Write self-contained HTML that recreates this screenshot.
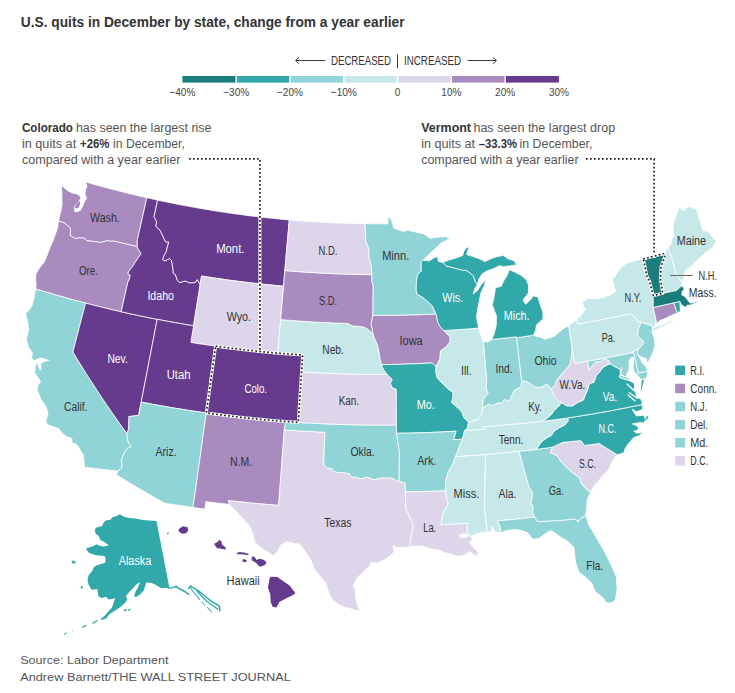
<!DOCTYPE html>
<html><head><meta charset="utf-8"><title>U.S. quits in December by state</title>
<style>html,body{margin:0;padding:0;background:#fff;width:735px;height:693px;overflow:hidden}svg{display:block}text{font-family:"Liberation Sans",sans-serif}</style></head>
<body><svg width="735" height="693" viewBox="0 0 735 693" font-family="Liberation Sans, sans-serif">
<rect width="735" height="693" fill="#fff"/>
<g stroke="#fff" stroke-width="0.8" stroke-linejoin="round"><path d="M58.4,221.1L59.1,218.4L59.7,215.7L60.3,213.3L61.0,210.9L61.5,207.6L62.1,204.3L62.0,201.2L61.9,198.1L61.9,195.5L62.0,192.9L61.4,188.4L61.5,185.3L63.0,186.7L64.4,188.0L66.3,189.5L68.2,191.0L70.3,192.0L72.3,193.0L74.5,193.4L76.8,193.8L78.5,195.0L80.2,196.2L80.9,197.8L79.7,200.0L78.4,202.2L76.4,204.2L74.3,206.2L74.4,208.8L74.5,211.5L76.3,211.6L78.1,211.6L80.9,209.9L82.6,206.0L83.6,203.7L84.5,201.4L86.5,198.5L85.0,193.8L85.6,189.6L87.0,186.6L85.5,181.9L88.2,182.6L90.8,183.4L93.5,184.2L96.1,184.9L98.8,185.6L101.4,186.4L104.1,187.1L106.7,187.8L109.4,188.5L112.1,189.2L114.7,189.9L117.4,190.6L120.1,191.3L122.7,192.0L125.4,192.6L128.1,193.3L130.8,194.0L133.5,194.6L136.1,195.2L138.8,195.9L141.5,196.5L144.2,197.1L146.9,197.7L146.0,201.5L145.2,205.3L144.3,209.1L143.4,212.9L142.6,216.7L141.7,220.5L140.9,224.3L140.0,228.1L139.1,231.9L138.3,235.7L137.4,239.5L137.3,243.2L137.2,246.6L134.6,246.0L132.0,245.4L129.4,244.8L126.9,244.2L124.3,243.6L121.7,243.0L119.1,242.4L116.5,241.7L113.9,241.1L112.0,241.2L110.0,241.3L108.3,241.0L106.6,240.6L104.0,241.6L101.3,242.5L98.4,242.1L95.5,241.6L93.2,241.4L90.8,241.2L89.0,241.0L87.2,240.9L85.8,239.5L84.3,238.2L82.0,238.0L79.6,237.9L77.4,238.2L75.1,238.5L73.4,237.5L71.6,236.4L69.9,235.3L70.6,231.1L69.8,227.5L67.4,225.4L66.0,224.2L64.5,223.1L61.8,221.9L60.1,221.5Z" fill="#a98bbf"/><path d="M58.4,221.1L60.1,221.5L61.8,221.9L64.5,223.1L66.0,224.2L67.4,225.4L69.8,227.5L70.6,231.1L69.9,235.3L71.6,236.4L73.4,237.5L75.1,238.5L77.4,238.2L79.6,237.9L82.0,238.0L84.3,238.2L85.8,239.5L87.2,240.9L89.0,241.0L90.8,241.2L93.2,241.4L95.5,241.6L98.4,242.1L101.3,242.5L104.0,241.6L106.6,240.6L108.3,241.0L110.0,241.3L112.0,241.2L113.9,241.1L116.5,241.7L119.1,242.4L121.7,243.0L124.3,243.6L126.9,244.2L129.4,244.8L132.0,245.4L134.6,246.0L137.2,246.6L138.3,249.3L140.3,252.4L140.9,254.3L138.9,256.7L137.0,259.6L135.6,261.6L134.3,263.6L133.2,265.6L131.3,268.1L129.4,270.6L127.7,273.6L130.2,275.0L129.5,278.7L128.5,281.0L127.8,282.2L127.0,285.9L126.2,289.6L125.3,293.3L124.5,297.0L123.7,300.7L122.8,304.4L122.0,308.1L121.2,311.8L118.2,311.1L115.2,310.4L112.2,309.7L109.3,309.0L106.3,308.3L103.3,307.6L100.4,306.8L97.4,306.1L94.5,305.4L91.5,304.6L88.5,303.9L85.6,303.1L82.6,302.3L79.7,301.6L76.7,300.8L73.8,300.0L70.8,299.2L67.9,298.4L64.9,297.5L62.0,296.7L59.1,295.9L56.1,295.1L53.2,294.2L50.3,293.3L47.3,292.5L44.4,291.6L41.5,290.7L38.6,289.9L35.6,289.0L36.2,285.6L35.9,282.9L35.7,280.2L35.7,277.2L35.8,274.2L37.8,270.8L39.9,267.4L41.9,264.9L43.9,262.5L45.5,259.0L47.0,255.5L48.5,251.6L49.9,247.7L51.4,244.6L52.8,241.5L54.2,237.6L55.6,233.6L56.7,230.5L57.7,227.3L58.1,224.2Z" fill="#a98bbf"/><path d="M35.6,289.0L38.6,289.9L41.5,290.7L44.4,291.6L47.3,292.5L50.3,293.3L53.2,294.2L56.1,295.1L59.1,295.9L62.0,296.7L64.9,297.5L67.9,298.4L70.8,299.2L73.8,300.0L76.7,300.8L79.7,301.6L82.6,302.3L85.6,303.1L84.5,307.2L83.5,311.3L82.4,315.3L81.3,319.4L80.3,323.5L79.2,327.6L78.2,331.6L77.1,335.7L76.1,339.8L75.0,343.9L73.9,348.0L72.9,352.1L75.2,355.8L77.4,359.6L79.8,363.3L82.1,367.1L84.4,370.8L86.8,374.5L89.2,378.3L91.6,382.0L94.0,385.7L96.4,389.4L98.9,393.2L101.3,396.9L103.8,400.6L106.3,404.3L108.8,408.0L111.4,411.7L113.9,415.3L116.5,419.0L119.1,422.7L121.7,426.4L124.3,430.0L127.0,433.7L127.1,437.1L127.7,439.9L128.4,442.6L129.8,444.6L131.2,446.5L128.9,447.8L126.7,449.1L124.8,452.1L123.1,456.1L121.4,460.1L121.8,463.6L122.1,467.1L120.2,469.1L118.2,471.1L114.8,470.7L111.5,470.4L108.1,470.0L104.8,469.6L101.4,469.2L98.1,468.8L94.7,468.4L91.4,468.0L88.0,467.6L84.7,467.2L84.4,464.3L84.1,461.5L83.7,458.4L83.4,455.3L81.3,451.8L79.3,448.3L77.7,446.2L76.1,444.1L74.1,443.6L72.0,443.1L71.9,440.7L71.8,438.2L69.8,437.8L67.8,437.4L65.4,435.7L63.0,433.9L60.8,431.2L58.7,428.5L55.9,427.6L53.2,426.7L50.4,425.7L47.6,424.8L45.8,421.7L46.9,417.6L48.1,413.6L47.1,410.2L46.1,406.9L43.6,403.2L41.1,399.5L39.0,394.5L37.0,389.5L37.6,387.1L38.3,384.7L40.5,381.8L38.7,378.3L36.7,375.7L34.7,373.1L34.9,370.1L35.1,367.1L35.7,364.9L36.4,362.7L33.9,360.4L31.6,358.1L32.0,355.6L32.4,353.1L30.3,349.9L28.2,346.6L27.3,342.8L26.4,339.0L27.2,335.7L28.0,332.4L28.8,329.1L28.0,325.0L27.3,320.8L26.5,317.1L25.6,313.4L27.5,311.6L29.3,309.9L30.7,307.7L32.0,305.5L33.1,301.4L34.1,297.3L34.9,293.1Z" fill="#91d4d7"/><path d="M85.6,303.1L88.5,303.9L91.5,304.6L94.5,305.4L97.4,306.1L100.4,306.8L103.3,307.6L106.3,308.3L109.3,309.0L112.2,309.7L115.2,310.4L118.2,311.1L121.2,311.8L124.2,312.4L127.2,313.1L130.2,313.8L133.2,314.4L136.2,315.0L139.2,315.7L142.2,316.3L145.2,316.9L148.2,317.5L151.2,318.1L154.2,318.7L157.2,319.3L156.4,323.5L155.6,327.6L154.8,331.7L154.0,335.9L153.2,340.0L152.4,344.1L151.6,348.3L150.8,352.4L150.0,356.6L149.2,360.7L148.4,364.8L147.6,369.0L146.8,373.1L146.0,377.3L145.2,381.4L144.4,385.5L143.6,389.7L142.8,393.8L142.0,398.0L141.2,402.1L140.6,405.4L139.9,408.7L139.3,412.1L138.7,415.4L136.1,415.7L133.6,416.1L131.2,416.3L128.9,416.5L128.9,419.3L128.9,422.0L128.8,425.5L128.7,428.9L127.8,431.3L127.0,433.7L124.3,430.0L121.7,426.4L119.1,422.7L116.5,419.0L113.9,415.3L111.4,411.7L108.8,408.0L106.3,404.3L103.8,400.6L101.3,396.9L98.9,393.2L96.4,389.4L94.0,385.7L91.6,382.0L89.2,378.3L86.8,374.5L84.4,370.8L82.1,367.1L79.8,363.3L77.4,359.6L75.2,355.8L72.9,352.1L73.9,348.0L75.0,343.9L76.1,339.8L77.1,335.7L78.2,331.6L79.2,327.6L80.3,323.5L81.3,319.4L82.4,315.3L83.5,311.3L84.5,307.2Z" fill="#663b8e"/><path d="M146.9,197.7L149.6,198.3L152.2,198.9L154.9,199.5L157.6,200.1L156.9,203.4L156.2,206.7L155.5,210.0L154.8,213.3L154.0,216.6L155.4,219.3L156.7,221.9L155.8,226.0L157.8,228.1L159.9,230.2L161.1,232.6L162.4,235.0L164.0,238.7L165.7,241.8L167.3,241.9L168.8,242.0L167.8,245.6L166.9,249.1L165.9,252.7L164.3,254.9L163.5,257.2L162.7,259.5L164.8,261.0L167.2,259.7L169.5,258.5L171.5,260.6L172.1,263.8L172.6,267.0L173.2,270.3L173.3,273.3L175.4,274.6L176.4,277.5L177.4,280.4L179.4,282.5L182.6,281.7L185.7,281.0L187.4,281.9L189.0,282.8L192.1,282.7L195.1,282.6L197.2,279.6L198.7,282.1L200.2,284.6L199.5,288.7L198.9,292.9L198.2,297.0L197.5,301.1L196.9,305.2L196.2,309.3L195.5,313.4L194.9,317.5L194.2,321.6L193.6,325.8L190.5,325.3L187.5,324.8L184.5,324.3L181.4,323.7L178.4,323.2L175.4,322.7L172.4,322.2L169.3,321.6L166.3,321.0L163.3,320.5L160.3,319.9L157.2,319.3L154.2,318.7L151.2,318.1L148.2,317.5L145.2,316.9L142.2,316.3L139.2,315.7L136.2,315.0L133.2,314.4L130.2,313.8L127.2,313.1L124.2,312.4L121.2,311.8L122.0,308.1L122.8,304.4L123.7,300.7L124.5,297.0L125.3,293.3L126.2,289.6L127.0,285.9L127.8,282.2L128.5,281.0L129.5,278.7L130.2,275.0L127.7,273.6L129.4,270.6L131.3,268.1L133.2,265.6L134.3,263.6L135.6,261.6L137.0,259.6L138.9,256.7L140.9,254.3L140.3,252.4L138.3,249.3L137.2,246.6L137.3,243.2L137.4,239.5L138.3,235.7L139.1,231.9L140.0,228.1L140.9,224.3L141.7,220.5L142.6,216.7L143.4,212.9L144.3,209.1L145.2,205.3L146.0,201.5Z" fill="#663b8e"/><path d="M157.6,200.1L160.3,200.7L163.0,201.3L165.8,201.8L168.5,202.4L171.2,202.9L173.9,203.5L176.6,204.0L179.4,204.6L182.1,205.1L184.8,205.6L187.5,206.1L190.3,206.6L193.0,207.1L195.7,207.6L198.5,208.1L201.2,208.6L203.9,209.0L206.7,209.5L209.4,209.9L212.1,210.4L214.9,210.8L217.6,211.2L220.4,211.7L223.1,212.1L225.9,212.5L228.6,212.9L231.4,213.3L234.1,213.7L236.9,214.1L239.6,214.4L242.4,214.8L245.1,215.2L247.9,215.5L250.6,215.9L253.4,216.2L256.1,216.5L258.9,216.8L261.6,217.2L264.4,217.5L267.2,217.8L269.9,218.1L272.7,218.3L275.4,218.6L278.2,218.9L281.0,219.2L283.7,219.4L286.5,219.7L289.3,219.9L288.9,223.8L288.6,227.7L288.3,231.5L287.9,235.4L287.6,239.3L287.2,243.2L286.9,247.1L286.6,251.0L286.2,254.9L285.9,258.8L285.6,262.7L285.2,266.6L284.9,270.5L284.5,274.4L284.2,278.3L283.9,282.3L283.5,286.2L280.6,285.9L277.7,285.7L274.7,285.4L271.8,285.1L268.8,284.8L265.9,284.5L263.0,284.2L260.0,283.9L257.1,283.6L254.2,283.3L251.2,282.9L248.3,282.6L245.4,282.2L242.5,281.9L239.5,281.5L236.6,281.1L233.7,280.7L230.8,280.4L227.8,280.0L224.9,279.6L222.0,279.1L219.1,278.7L216.1,278.3L213.2,277.9L210.3,277.4L207.4,277.0L204.5,276.5L201.6,276.0L201.1,278.9L200.6,281.8L200.2,284.6L198.7,282.1L197.2,279.6L195.1,282.6L192.1,282.7L189.0,282.8L187.4,281.9L185.7,281.0L182.6,281.7L179.4,282.5L177.4,280.4L176.4,277.5L175.4,274.6L173.3,273.3L173.2,270.3L172.6,267.0L172.1,263.8L171.5,260.6L169.5,258.5L167.2,259.7L164.8,261.0L162.7,259.5L163.5,257.2L164.3,254.9L165.9,252.7L166.9,249.1L167.8,245.6L168.8,242.0L167.3,241.9L165.7,241.8L164.0,238.7L162.4,235.0L161.1,232.6L159.9,230.2L157.8,228.1L155.8,226.0L156.7,221.9L155.4,219.3L154.0,216.6L154.8,213.3L155.5,210.0L156.2,206.7L156.9,203.4Z" fill="#663b8e"/><path d="M200.2,284.6L200.6,281.8L201.1,278.9L201.6,276.0L204.5,276.5L207.4,277.0L210.3,277.4L213.2,277.9L216.1,278.3L219.1,278.7L222.0,279.1L224.9,279.6L227.8,280.0L230.8,280.4L233.7,280.7L236.6,281.1L239.5,281.5L242.5,281.9L245.4,282.2L248.3,282.6L251.2,282.9L254.2,283.3L257.1,283.6L260.0,283.9L263.0,284.2L265.9,284.5L268.8,284.8L271.8,285.1L274.7,285.4L277.7,285.7L280.6,285.9L283.5,286.2L283.2,290.3L282.8,294.5L282.5,298.7L282.1,302.9L281.7,307.0L281.4,311.2L281.0,315.4L280.6,319.6L280.3,323.8L279.9,328.0L279.6,332.2L279.2,336.4L278.8,340.5L278.5,344.7L278.1,348.9L277.8,353.1L274.6,352.9L271.5,352.6L268.4,352.3L265.3,352.0L262.2,351.7L259.1,351.4L256.0,351.0L252.9,350.7L249.7,350.4L246.6,350.0L243.5,349.7L240.4,349.3L237.3,348.9L234.2,348.6L231.1,348.2L228.0,347.8L224.9,347.4L221.8,347.0L218.7,346.5L215.6,346.1L212.5,345.7L209.4,345.2L206.3,344.8L203.2,344.3L200.1,343.9L197.0,343.4L194.0,342.9L190.9,342.4L191.5,338.2L192.2,334.1L192.9,329.9L193.6,325.8L194.2,321.6L194.9,317.5L195.5,313.4L196.2,309.3L196.9,305.2L197.5,301.1L198.2,297.0L198.9,292.9L199.5,288.7Z" fill="#ddd5ea"/><path d="M157.2,319.3L160.3,319.9L163.3,320.5L166.3,321.0L169.3,321.6L172.4,322.2L175.4,322.7L178.4,323.2L181.4,323.7L184.5,324.3L187.5,324.8L190.5,325.3L193.6,325.8L192.9,329.9L192.2,334.1L191.5,338.2L190.9,342.4L194.0,342.9L197.0,343.4L200.1,343.9L203.2,344.3L206.3,344.8L209.4,345.2L212.5,345.7L215.6,346.1L215.0,350.3L214.4,354.5L213.9,358.6L213.3,362.8L212.7,367.0L212.1,371.2L211.5,375.3L210.9,379.5L210.4,383.7L209.8,387.9L209.2,392.1L208.6,396.2L208.0,400.4L207.4,404.6L206.9,408.8L206.3,412.9L203.0,412.5L199.7,412.0L196.5,411.5L193.2,411.1L190.0,410.6L186.7,410.1L183.4,409.5L180.2,409.0L176.9,408.5L173.7,408.0L170.4,407.4L167.2,406.9L163.9,406.3L160.7,405.7L157.4,405.1L154.2,404.6L150.9,404.0L147.7,403.3L144.5,402.7L141.2,402.1L142.0,398.0L142.8,393.8L143.6,389.7L144.4,385.5L145.2,381.4L146.0,377.3L146.8,373.1L147.6,369.0L148.4,364.8L149.2,360.7L150.0,356.6L150.8,352.4L151.6,348.3L152.4,344.1L153.2,340.0L154.0,335.9L154.8,331.7L155.6,327.6L156.4,323.5Z" fill="#663b8e"/><path d="M215.6,346.1L218.7,346.5L221.8,347.0L224.9,347.4L228.0,347.8L231.1,348.2L234.2,348.6L237.3,348.9L240.4,349.3L243.5,349.7L246.6,350.0L249.7,350.4L252.9,350.7L256.0,351.0L259.1,351.4L262.2,351.7L265.3,352.0L268.4,352.3L271.5,352.6L274.6,352.9L277.8,353.1L280.9,353.4L284.0,353.7L287.1,353.9L290.2,354.1L293.3,354.4L296.5,354.6L299.6,354.8L302.7,355.0L302.4,359.2L302.1,363.4L301.9,367.6L301.6,371.8L301.3,376.1L301.0,380.3L300.8,384.5L300.5,388.7L300.2,392.9L300.0,397.1L299.7,401.3L299.4,405.5L299.1,409.7L298.9,413.9L298.6,418.1L298.3,422.4L295.2,422.1L292.0,421.9L288.9,421.7L285.8,421.5L282.6,421.2L279.4,421.0L276.2,420.7L273.0,420.5L269.8,420.2L266.7,419.9L263.5,419.6L260.3,419.3L257.1,419.0L253.9,418.7L250.7,418.3L247.6,418.0L244.4,417.7L241.2,417.3L238.0,417.0L234.8,416.6L231.7,416.2L228.5,415.8L225.3,415.5L222.1,415.1L219.0,414.6L215.8,414.2L212.6,413.8L209.4,413.4L206.3,412.9L206.9,408.8L207.4,404.6L208.0,400.4L208.6,396.2L209.2,392.1L209.8,387.9L210.4,383.7L210.9,379.5L211.5,375.3L212.1,371.2L212.7,367.0L213.3,362.8L213.9,358.6L214.4,354.5L215.0,350.3Z" fill="#663b8e"/><path d="M141.2,402.1L144.5,402.7L147.7,403.3L150.9,404.0L154.2,404.6L157.4,405.1L160.7,405.7L163.9,406.3L167.2,406.9L170.4,407.4L173.7,408.0L176.9,408.5L180.2,409.0L183.4,409.5L186.7,410.1L190.0,410.6L193.2,411.1L196.5,411.5L199.7,412.0L203.0,412.5L206.3,412.9L205.7,417.1L205.1,421.2L204.6,425.3L204.0,429.4L203.4,433.5L202.8,437.7L202.3,441.8L201.7,445.9L201.1,450.0L200.5,454.1L200.0,458.2L199.4,462.3L198.8,466.5L198.2,470.6L197.7,474.7L197.1,478.8L196.5,482.9L195.9,487.0L195.4,491.1L194.8,495.2L194.2,499.3L193.6,503.4L193.1,507.5L189.9,507.0L186.8,506.6L183.6,506.1L180.4,505.7L177.3,505.2L174.1,504.7L171.0,504.2L167.8,503.7L164.7,503.2L161.4,501.4L158.1,499.5L154.8,497.6L151.6,495.8L148.3,493.9L145.0,492.0L141.8,490.1L138.6,488.2L135.4,486.3L132.1,484.3L128.9,482.4L125.7,480.5L122.5,478.5L119.4,476.6L116.2,474.6L118.2,471.1L120.2,469.1L122.1,467.1L121.8,463.6L121.4,460.1L123.1,456.1L124.8,452.1L126.7,449.1L128.9,447.8L131.2,446.5L129.8,444.6L128.4,442.6L127.7,439.9L127.1,437.1L127.0,433.7L127.8,431.3L128.7,428.9L128.8,425.5L128.9,422.0L128.9,419.3L128.9,416.5L131.2,416.3L133.6,416.1L136.1,415.7L138.7,415.4L139.3,412.1L139.9,408.7L140.6,405.4Z" fill="#91d4d7"/><path d="M206.3,412.9L209.4,413.4L212.6,413.8L215.8,414.2L219.0,414.6L222.1,415.1L225.3,415.5L228.5,415.8L231.7,416.2L234.8,416.6L238.0,417.0L241.2,417.3L244.4,417.7L247.6,418.0L250.7,418.3L253.9,418.7L257.1,419.0L260.3,419.3L263.5,419.6L266.7,419.9L269.8,420.2L273.0,420.5L276.2,420.7L279.4,421.0L282.6,421.2L285.8,421.5L285.1,425.7L284.3,429.8L284.0,434.0L283.7,438.2L283.4,442.4L283.1,446.6L282.8,450.9L282.4,455.1L282.1,459.3L281.8,463.5L281.5,467.7L281.2,471.9L280.8,476.0L280.5,480.2L280.2,484.4L279.9,488.6L279.6,492.8L279.3,497.0L278.9,501.2L278.6,505.4L275.3,505.1L271.9,504.9L268.6,504.6L265.3,504.3L261.9,504.0L258.6,503.7L255.3,503.4L251.9,503.1L248.6,502.8L245.3,502.4L241.9,502.1L238.6,501.7L235.3,501.4L232.0,501.0L228.6,500.7L229.5,504.5L226.1,504.1L222.7,503.7L219.4,503.3L216.0,502.9L212.6,502.5L209.3,502.0L205.9,501.6L205.4,505.3L204.9,509.1L202.0,508.7L199.0,508.3L196.0,507.9L193.1,507.5L193.6,503.4L194.2,499.3L194.8,495.2L195.4,491.1L195.9,487.0L196.5,482.9L197.1,478.8L197.7,474.7L198.2,470.6L198.8,466.5L199.4,462.3L200.0,458.2L200.5,454.1L201.1,450.0L201.7,445.9L202.3,441.8L202.8,437.7L203.4,433.5L204.0,429.4L204.6,425.3L205.1,421.2L205.7,417.1Z" fill="#a98bbf"/><path d="M284.3,429.8L287.5,430.1L290.6,430.3L293.7,430.5L296.8,430.7L300.0,430.9L303.1,431.1L306.2,431.3L309.4,431.5L312.5,431.6L315.6,431.8L318.7,432.0L321.9,432.1L325.0,432.3L324.8,436.3L324.6,440.4L324.5,444.5L324.3,448.6L324.1,452.7L323.9,456.8L323.8,460.9L323.6,464.9L325.6,466.5L327.5,468.1L329.6,468.2L331.6,468.3L334.3,471.4L337.7,472.4L340.1,472.5L342.5,472.5L345.9,473.0L349.3,473.6L351.3,477.0L353.7,477.0L356.1,477.1L358.9,478.0L361.6,478.8L363.7,478.0L365.8,477.2L367.8,477.6L369.9,478.1L371.9,478.9L374.0,479.8L377.5,478.9L380.9,478.0L383.7,477.9L386.4,477.8L389.2,477.9L391.9,478.1L394.0,479.3L396.1,480.5L399.1,481.5L402.2,482.2L405.2,482.9L405.3,485.9L405.4,488.9L405.4,491.8L405.5,495.3L405.5,498.7L405.6,502.1L405.7,505.6L405.7,509.0L407.1,511.5L408.5,514.0L410.4,518.1L412.3,522.3L412.7,524.8L413.1,527.3L412.1,531.5L411.1,535.7L410.9,538.6L410.6,541.6L409.9,544.4L409.2,547.1L406.6,547.3L404.0,547.4L400.6,547.4L397.1,547.4L395.1,546.7L393.0,546.0L393.7,548.8L394.4,551.5L392.4,553.6L390.3,555.6L387.6,557.7L384.8,559.7L382.1,560.9L379.3,562.0L376.6,563.2L373.8,562.9L371.1,562.5L369.7,566.6L367.7,568.0L365.6,569.3L363.6,571.4L361.5,573.4L359.4,575.5L357.4,577.5L356.0,580.3L354.7,583.0L352.6,585.8L355.3,588.5L355.3,591.9L355.3,595.3L356.0,598.7L356.7,602.2L357.7,605.3L358.8,608.4L360.5,609.9L358.2,610.3L355.9,610.8L352.2,609.1L348.4,608.2L344.7,607.3L340.9,605.5L337.2,603.7L334.2,601.2L331.3,598.6L329.9,595.2L328.5,591.8L327.2,587.6L325.9,583.4L323.0,580.0L320.2,576.5L317.4,573.1L314.6,569.6L313.3,566.2L312.0,562.8L310.7,559.4L307.9,555.5L305.2,551.6L302.5,547.9L299.8,544.3L296.9,543.8L294.0,543.4L290.5,542.5L286.9,541.6L283.9,543.3L280.9,545.0L279.2,548.3L277.5,551.5L275.5,553.6L273.5,555.7L271.0,554.1L268.6,552.5L265.1,550.5L261.6,548.5L258.2,545.3L254.9,542.1L253.8,537.8L252.8,533.5L251.0,529.5L249.2,525.6L245.9,521.9L242.7,518.2L239.5,514.9L236.3,511.6L234.0,509.2L231.7,506.9L229.5,504.5L228.6,500.7L232.0,501.0L235.3,501.4L238.6,501.7L241.9,502.1L245.3,502.4L248.6,502.8L251.9,503.1L255.3,503.4L258.6,503.7L261.9,504.0L265.3,504.3L268.6,504.6L271.9,504.9L275.3,505.1L278.6,505.4L278.9,501.2L279.3,497.0L279.6,492.8L279.9,488.6L280.2,484.4L280.5,480.2L280.8,476.0L281.2,471.9L281.5,467.7L281.8,463.5L282.1,459.3L282.4,455.1L282.8,450.9L283.1,446.6L283.4,442.4L283.7,438.2L284.0,434.0Z" fill="#ddd5ea"/><path d="M284.3,429.8L285.1,425.7L285.8,421.5L288.9,421.7L292.0,421.9L295.2,422.1L298.3,422.4L301.6,422.6L304.8,422.8L308.1,423.0L311.4,423.1L314.6,423.3L317.9,423.5L321.2,423.6L324.5,423.8L327.7,423.9L331.0,424.1L334.3,424.2L337.5,424.3L340.8,424.4L344.1,424.5L347.4,424.6L350.6,424.7L353.9,424.7L357.2,424.8L360.4,424.9L363.7,424.9L367.0,425.0L370.3,425.0L373.5,425.0L376.8,425.0L380.1,425.0L383.4,425.0L386.6,425.0L389.9,425.0L393.2,424.9L396.5,424.9L396.5,429.1L396.6,433.3L397.1,437.1L397.7,440.8L398.2,444.5L398.8,448.2L399.4,451.9L399.3,455.6L399.3,459.3L399.3,463.0L399.3,466.7L399.2,470.4L399.2,474.1L399.2,477.8L399.1,481.5L396.1,480.5L394.0,479.3L391.9,478.1L389.2,477.9L386.4,477.8L383.7,477.9L380.9,478.0L377.5,478.9L374.0,479.8L371.9,478.9L369.9,478.1L367.8,477.6L365.8,477.2L363.7,478.0L361.6,478.8L358.9,478.0L356.1,477.1L353.7,477.0L351.3,477.0L349.3,473.6L345.9,473.0L342.5,472.5L340.1,472.5L337.7,472.4L334.3,471.4L331.6,468.3L329.6,468.2L327.5,468.1L325.6,466.5L323.6,464.9L323.8,460.9L323.9,456.8L324.1,452.7L324.3,448.6L324.5,444.5L324.6,440.4L324.8,436.3L325.0,432.3L321.9,432.1L318.7,432.0L315.6,431.8L312.5,431.6L309.4,431.5L306.2,431.3L303.1,431.1L300.0,430.9L296.8,430.7L293.7,430.5L290.6,430.3L287.5,430.1Z" fill="#91d4d7"/><path d="M298.3,422.4L298.6,418.1L298.9,413.9L299.1,409.7L299.4,405.5L299.7,401.3L300.0,397.1L300.2,392.9L300.5,388.7L300.8,384.5L301.0,380.3L301.3,376.1L301.6,371.8L304.8,372.0L307.9,372.2L311.1,372.4L314.2,372.6L317.4,372.8L320.6,372.9L323.7,373.1L326.9,373.2L330.1,373.4L333.2,373.5L336.4,373.6L339.6,373.7L342.7,373.8L345.9,373.9L349.0,374.0L352.2,374.1L355.4,374.1L358.5,374.2L361.7,374.3L364.9,374.3L368.0,374.3L371.2,374.4L374.4,374.4L377.5,374.4L380.7,374.4L383.9,374.4L387.0,374.4L389.7,376.9L392.3,379.4L390.4,383.6L392.4,387.8L394.3,388.5L396.2,389.1L396.3,393.1L396.3,397.1L396.3,401.1L396.3,405.0L396.4,409.0L396.4,413.0L396.4,417.0L396.4,420.9L396.5,424.9L393.2,424.9L389.9,425.0L386.6,425.0L383.4,425.0L380.1,425.0L376.8,425.0L373.5,425.0L370.3,425.0L367.0,425.0L363.7,424.9L360.4,424.9L357.2,424.8L353.9,424.7L350.6,424.7L347.4,424.6L344.1,424.5L340.8,424.4L337.5,424.3L334.3,424.2L331.0,424.1L327.7,423.9L324.5,423.8L321.2,423.6L317.9,423.5L314.6,423.3L311.4,423.1L308.1,423.0L304.8,422.8L301.6,422.6Z" fill="#ddd5ea"/><path d="M280.6,319.6L280.3,323.8L279.9,328.0L279.6,332.2L279.2,336.4L278.8,340.5L278.5,344.7L278.1,348.9L277.8,353.1L280.9,353.4L284.0,353.7L287.1,353.9L290.2,354.1L293.3,354.4L296.5,354.6L299.6,354.8L302.7,355.0L302.4,359.2L302.1,363.4L301.9,367.6L301.6,371.8L304.8,372.0L307.9,372.2L311.1,372.4L314.2,372.6L317.4,372.8L320.6,372.9L323.7,373.1L326.9,373.2L330.1,373.4L333.2,373.5L336.4,373.6L339.6,373.7L342.7,373.8L345.9,373.9L349.0,374.0L352.2,374.1L355.4,374.1L358.5,374.2L361.7,374.3L364.9,374.3L368.0,374.3L371.2,374.4L374.4,374.4L377.5,374.4L380.7,374.4L383.9,374.4L387.0,374.4L385.2,371.9L383.4,369.3L382.3,367.0L381.2,364.6L380.6,360.9L379.8,357.5L379.4,354.2L378.9,350.8L378.0,347.4L377.1,344.1L375.6,340.7L374.0,337.3L373.4,334.9L372.8,332.4L371.0,332.3L368.6,329.7L366.2,328.4L363.7,327.1L361.3,326.7L358.9,326.2L355.8,326.1L352.8,326.1L350.4,324.8L348.0,323.4L345.1,323.4L342.1,323.3L339.2,323.2L336.3,323.1L333.3,322.9L330.4,322.8L327.5,322.7L324.5,322.5L321.6,322.4L318.7,322.3L315.8,322.1L312.8,321.9L309.9,321.7L307.0,321.6L304.0,321.4L301.1,321.2L298.2,321.0L295.3,320.8L292.3,320.5L289.4,320.3L286.5,320.1L283.6,319.8Z" fill="#c7e8e9"/><path d="M284.9,270.5L287.8,270.8L290.7,271.0L293.6,271.2L296.5,271.5L299.4,271.7L302.3,271.9L305.2,272.1L308.1,272.3L311.0,272.5L313.9,272.6L316.8,272.8L319.7,273.0L322.6,273.1L325.5,273.3L328.4,273.4L331.3,273.6L334.2,273.7L337.1,273.8L340.0,273.9L342.9,274.0L345.8,274.1L348.7,274.2L351.6,274.3L354.5,274.3L357.4,274.4L360.3,274.5L363.2,274.5L366.1,274.5L369.0,274.6L371.9,274.6L371.9,278.3L371.9,281.9L373.1,285.3L373.1,289.1L373.1,292.8L373.1,296.6L373.0,300.4L373.0,304.1L373.0,307.9L373.0,311.7L372.9,315.5L372.0,319.7L371.1,323.8L371.7,326.4L372.3,328.9L372.8,332.4L371.0,332.3L368.6,329.7L366.2,328.4L363.7,327.1L361.3,326.7L358.9,326.2L355.8,326.1L352.8,326.1L350.4,324.8L348.0,323.4L345.1,323.4L342.1,323.3L339.2,323.2L336.3,323.1L333.3,322.9L330.4,322.8L327.5,322.7L324.5,322.5L321.6,322.4L318.7,322.3L315.8,322.1L312.8,321.9L309.9,321.7L307.0,321.6L304.0,321.4L301.1,321.2L298.2,321.0L295.3,320.8L292.3,320.5L289.4,320.3L286.5,320.1L283.6,319.8L280.6,319.6L281.0,315.4L281.4,311.2L281.7,307.0L282.1,302.9L282.5,298.7L282.8,294.5L283.2,290.3L283.5,286.2L283.9,282.3L284.2,278.3L284.5,274.4Z" fill="#a98bbf"/><path d="M289.3,219.9L291.9,220.1L294.6,220.4L297.3,220.6L300.0,220.8L302.7,221.0L305.4,221.2L308.1,221.4L310.8,221.5L313.5,221.7L316.2,221.9L318.9,222.0L321.6,222.2L324.3,222.3L327.0,222.5L329.7,222.6L332.4,222.7L335.1,222.9L337.8,223.0L340.5,223.1L343.2,223.2L345.9,223.3L348.6,223.4L351.3,223.4L354.0,223.5L356.7,223.6L359.4,223.6L362.2,223.7L364.9,223.7L365.2,227.8L365.6,232.0L365.6,236.1L365.5,240.3L367.2,244.4L368.8,248.6L368.9,252.8L369.0,256.9L369.8,260.2L370.7,263.6L371.5,266.9L371.7,270.8L371.9,274.6L369.0,274.6L366.1,274.5L363.2,274.5L360.3,274.5L357.4,274.4L354.5,274.3L351.6,274.3L348.7,274.2L345.8,274.1L342.9,274.0L340.0,273.9L337.1,273.8L334.2,273.7L331.3,273.6L328.4,273.4L325.5,273.3L322.6,273.1L319.7,273.0L316.8,272.8L313.9,272.6L311.0,272.5L308.1,272.3L305.2,272.1L302.3,271.9L299.4,271.7L296.5,271.5L293.6,271.2L290.7,271.0L287.8,270.8L284.9,270.5L285.2,266.6L285.6,262.7L285.9,258.8L286.2,254.9L286.6,251.0L286.9,247.1L287.2,243.2L287.6,239.3L287.9,235.4L288.3,231.5L288.6,227.7L288.9,223.8Z" fill="#ddd5ea"/><path d="M364.9,223.7L367.4,223.7L370.0,223.8L372.6,223.8L375.1,223.8L377.7,223.8L380.2,223.8L382.8,223.8L385.4,223.8L387.9,223.8L387.9,220.7L387.9,217.5L390.1,217.7L391.8,220.5L392.5,223.3L393.2,226.2L394.1,228.4L396.4,229.1L398.6,229.9L400.8,230.7L403.1,231.5L405.3,230.8L407.5,230.1L409.8,230.6L412.0,231.2L414.3,231.7L416.6,232.3L418.8,232.8L421.1,233.2L423.3,233.7L425.7,235.2L428.0,236.8L430.3,238.4L432.5,238.0L434.8,237.6L437.0,237.2L439.3,237.1L441.5,236.9L443.7,236.8L446.0,236.7L448.3,237.4L450.6,238.0L448.1,239.4L445.7,240.7L443.2,242.0L440.7,243.3L438.6,245.4L436.4,247.4L434.2,249.5L432.1,251.6L429.3,254.2L426.6,256.8L424.9,258.5L423.3,260.3L421.0,262.0L421.2,265.1L421.3,268.1L421.4,271.2L419.7,272.5L418.0,273.8L417.2,277.1L416.5,280.4L416.4,283.5L416.3,286.6L416.2,289.8L416.9,293.9L419.6,295.5L422.4,297.1L424.8,299.1L427.3,301.1L429.8,303.5L432.3,305.9L434.1,310.0L436.0,314.1L433.0,314.3L430.0,314.4L427.0,314.5L424.0,314.6L421.0,314.7L418.0,314.9L415.0,314.9L412.0,315.0L409.0,315.1L406.0,315.2L403.0,315.3L400.0,315.3L397.0,315.4L394.0,315.4L391.0,315.4L388.0,315.5L385.0,315.5L382.0,315.5L379.0,315.5L376.0,315.5L372.9,315.5L373.0,311.7L373.0,307.9L373.0,304.1L373.0,300.4L373.1,296.6L373.1,292.8L373.1,289.1L373.1,285.3L371.9,281.9L371.9,278.3L371.9,274.6L371.7,270.8L371.5,266.9L370.7,263.6L369.8,260.2L369.0,256.9L368.9,252.8L368.8,248.6L367.2,244.4L365.5,240.3L365.6,236.1L365.6,232.0L365.2,227.8Z" fill="#91d4d7"/><path d="M372.9,315.5L376.0,315.5L379.0,315.5L382.0,315.5L385.0,315.5L388.0,315.5L391.0,315.4L394.0,315.4L397.0,315.4L400.0,315.3L403.0,315.3L406.0,315.2L409.0,315.1L412.0,315.0L415.0,314.9L418.0,314.9L421.0,314.7L424.0,314.6L427.0,314.5L430.0,314.4L433.0,314.3L436.0,314.1L437.0,318.3L437.9,322.4L439.2,324.9L440.6,327.3L442.3,328.9L443.9,330.5L447.1,333.7L450.1,336.9L450.1,339.4L450.0,342.0L448.3,344.2L446.6,346.4L443.6,348.7L440.6,350.9L440.2,355.2L439.8,359.4L437.9,363.0L436.1,366.7L434.0,364.8L432.0,363.0L429.0,363.1L426.0,363.3L423.0,363.4L420.1,363.6L417.1,363.7L414.1,363.8L411.1,363.9L408.1,364.0L405.1,364.1L402.1,364.2L399.1,364.3L396.1,364.4L393.2,364.4L390.2,364.5L387.2,364.5L384.2,364.6L381.2,364.6L380.6,360.9L379.8,357.5L379.4,354.2L378.9,350.8L378.0,347.4L377.1,344.1L375.6,340.7L374.0,337.3L373.4,334.9L372.8,332.4L372.3,328.9L371.7,326.4L371.1,323.8L372.0,319.7Z" fill="#a98bbf"/><path d="M381.2,364.6L384.2,364.6L387.2,364.5L390.2,364.5L393.2,364.4L396.1,364.4L399.1,364.3L402.1,364.2L405.1,364.1L408.1,364.0L411.1,363.9L414.1,363.8L417.1,363.7L420.1,363.6L423.0,363.4L426.0,363.3L429.0,363.1L432.0,363.0L434.0,364.8L436.1,366.7L436.0,369.9L436.0,373.1L436.7,375.6L437.5,378.1L440.5,381.3L443.6,384.5L446.6,387.3L449.7,390.1L453.0,392.5L453.2,395.8L452.5,399.3L451.7,402.7L454.1,404.7L456.5,406.6L459.3,409.4L462.1,412.2L462.9,414.7L463.7,417.2L466.2,419.7L468.7,422.2L467.9,425.5L467.2,428.8L464.6,430.6L463.6,434.9L462.5,439.2L459.5,439.4L456.6,439.6L453.6,439.8L454.8,435.5L456.0,431.2L452.7,431.4L449.4,431.5L446.1,431.7L442.8,431.9L439.5,432.1L436.2,432.2L432.9,432.3L429.6,432.5L426.3,432.6L423.0,432.7L419.7,432.8L416.4,432.9L413.1,433.0L409.8,433.1L406.5,433.2L403.2,433.2L399.9,433.3L396.6,433.3L396.5,429.1L396.5,424.9L396.4,420.9L396.4,417.0L396.4,413.0L396.4,409.0L396.3,405.0L396.3,401.1L396.3,397.1L396.3,393.1L396.2,389.1L394.3,388.5L392.4,387.8L390.4,383.6L392.3,379.4L389.7,376.9L387.0,374.4L385.2,371.9L383.4,369.3L382.3,367.0Z" fill="#31a9aa"/><path d="M396.6,433.3L399.9,433.3L403.2,433.2L406.5,433.2L409.8,433.1L413.1,433.0L416.4,432.9L419.7,432.8L423.0,432.7L426.3,432.6L429.6,432.5L432.9,432.3L436.2,432.2L439.5,432.1L442.8,431.9L446.1,431.7L449.4,431.5L452.7,431.4L456.0,431.2L454.8,435.5L453.6,439.8L456.6,439.6L459.5,439.4L462.5,439.2L461.4,441.8L460.2,444.4L459.0,447.9L457.9,451.3L456.7,453.9L455.5,456.5L454.3,460.0L453.2,463.4L450.7,467.8L448.2,472.1L447.0,476.4L445.8,480.7L445.7,484.1L445.5,487.4L445.4,490.8L442.0,490.9L438.7,491.1L435.4,491.2L432.1,491.3L428.7,491.4L425.4,491.5L422.1,491.6L418.7,491.6L415.4,491.7L412.1,491.8L408.7,491.8L405.4,491.8L405.4,488.9L405.3,485.9L405.2,482.9L402.2,482.2L399.1,481.5L399.2,477.8L399.2,474.1L399.2,470.4L399.3,466.7L399.3,463.0L399.3,459.3L399.3,455.6L399.4,451.9L398.8,448.2L398.2,444.5L397.7,440.8L397.1,437.1Z" fill="#91d4d7"/><path d="M405.4,491.8L408.7,491.8L412.1,491.8L415.4,491.7L418.7,491.6L422.1,491.6L425.4,491.5L428.7,491.4L432.1,491.3L435.4,491.2L438.7,491.1L442.0,490.9L445.4,490.8L446.1,495.0L446.8,499.2L447.6,501.6L448.4,504.1L446.7,507.0L444.9,509.9L443.2,512.8L442.4,516.7L441.7,520.7L440.9,524.6L444.2,524.5L447.6,524.3L450.9,524.2L454.2,524.0L457.6,523.8L460.9,523.6L464.2,523.4L467.6,523.2L467.3,526.6L467.0,529.9L468.6,533.4L470.3,536.8L473.3,538.7L471.3,540.6L469.2,542.4L471.6,545.1L474.0,547.9L476.3,550.3L478.7,552.6L476.0,556.2L472.9,553.9L469.8,551.5L467.0,553.4L464.2,555.2L461.3,555.8L458.4,556.4L454.7,555.4L451.0,554.3L448.0,553.6L445.1,552.9L442.1,551.4L439.1,549.9L435.5,549.6L431.8,549.3L428.9,548.3L425.9,547.3L423.0,546.3L419.4,546.2L415.7,546.1L412.5,546.6L409.2,547.1L409.9,544.4L410.6,541.6L410.9,538.6L411.1,535.7L412.1,531.5L413.1,527.3L412.7,524.8L412.3,522.3L410.4,518.1L408.5,514.0L407.1,511.5L405.7,509.0L405.7,505.6L405.6,502.1L405.5,498.7L405.5,495.3Z" fill="#ddd5ea"/><path d="M483.9,454.6L480.8,454.8L477.6,455.1L474.5,455.3L471.3,455.5L468.1,455.7L465.0,455.9L461.8,456.2L458.7,456.4L455.5,456.5L454.3,460.0L453.2,463.4L450.7,467.8L448.2,472.1L447.0,476.4L445.8,480.7L445.7,484.1L445.5,487.4L445.4,490.8L446.1,495.0L446.8,499.2L447.6,501.6L448.4,504.1L446.7,507.0L444.9,509.9L443.2,512.8L442.4,516.7L441.7,520.7L440.9,524.6L444.2,524.5L447.6,524.3L450.9,524.2L454.2,524.0L457.6,523.8L460.9,523.6L464.2,523.4L467.6,523.2L467.3,526.6L467.0,529.9L468.6,533.4L470.3,536.8L472.4,535.6L474.5,534.5L478.0,533.4L481.5,532.3L484.4,532.2L487.3,532.2L486.9,528.6L486.5,525.0L486.0,521.3L485.6,517.7L485.2,514.1L484.8,510.5L484.3,506.9L484.4,502.9L484.6,499.0L484.7,495.0L484.8,491.1L484.9,487.1L485.0,483.2L485.1,479.2L485.2,475.3L485.3,471.4L485.3,467.5L485.4,463.7L485.4,459.9L485.4,456.1Z" fill="#c7e8e9"/><path d="M519.1,451.2L515.9,451.6L512.7,451.9L509.5,452.2L506.3,452.6L503.1,452.9L499.9,453.2L496.7,453.5L493.5,453.7L490.3,454.0L487.1,454.3L483.9,454.6L485.4,456.1L485.4,459.9L485.4,463.7L485.3,467.5L485.3,471.4L485.2,475.3L485.1,479.2L485.0,483.2L484.9,487.1L484.8,491.1L484.7,495.0L484.6,499.0L484.4,502.9L484.3,506.9L484.8,510.5L485.2,514.1L485.6,517.7L486.0,521.3L486.5,525.0L486.9,528.6L487.3,532.2L489.5,531.8L491.6,531.5L492.1,528.9L492.6,526.4L493.5,528.8L494.5,531.3L496.7,532.2L498.9,533.1L500.1,532.8L500.8,529.0L499.2,525.0L497.6,520.9L501.0,520.6L504.4,520.3L507.8,520.0L511.1,519.7L514.5,519.3L517.9,519.0L521.3,518.6L524.7,518.3L528.1,517.9L531.4,517.5L534.8,517.2L533.7,514.8L532.6,512.3L532.8,509.8L533.0,507.2L532.0,504.8L531.0,502.4L531.8,498.9L532.6,495.4L531.9,491.3L530.3,488.8L528.8,486.2L527.7,482.4L526.6,478.5L525.5,474.6L524.4,470.7L523.3,466.8L522.3,462.9L521.2,459.0L520.1,455.1Z" fill="#c7e8e9"/><path d="M519.1,451.2L520.1,455.1L521.2,459.0L522.3,462.9L523.3,466.8L524.4,470.7L525.5,474.6L526.6,478.5L527.7,482.4L528.8,486.2L530.3,488.8L531.9,491.3L532.6,495.4L531.8,498.9L531.0,502.4L532.0,504.8L533.0,507.2L532.8,509.8L532.6,512.3L533.7,514.8L534.8,517.2L536.1,519.5L537.4,521.7L540.7,521.6L544.0,521.4L547.4,521.2L550.7,521.1L554.1,520.9L557.4,520.7L560.7,520.5L564.1,520.2L566.9,520.0L569.8,519.7L572.7,519.4L575.5,519.1L578.2,522.3L579.2,519.8L582.5,517.4L585.8,515.1L586.2,510.9L586.7,506.8L586.9,503.4L587.1,499.9L588.9,496.0L590.8,492.0L586.9,489.8L584.3,486.8L581.7,483.8L580.5,480.6L579.3,477.3L576.2,475.3L573.1,473.2L570.6,471.0L568.2,468.8L565.0,465.8L561.8,462.9L559.6,459.4L557.4,455.9L553.7,454.2L550.0,452.6L551.4,449.9L552.7,447.1L549.5,447.6L546.2,448.1L542.9,448.5L539.6,449.0L536.3,449.4L533.5,449.7L530.6,450.0L527.7,450.4L524.8,450.7L521.9,450.9Z" fill="#91d4d7"/><path d="M534.8,517.2L531.4,517.5L528.1,517.9L524.7,518.3L521.3,518.6L517.9,519.0L514.5,519.3L511.1,519.7L507.8,520.0L504.4,520.3L501.0,520.6L497.6,520.9L499.2,525.0L500.8,529.0L500.1,532.8L502.5,532.0L505.0,531.2L507.4,530.5L511.0,529.9L514.5,529.4L518.2,529.9L521.8,530.4L524.9,531.7L527.9,533.1L530.5,536.2L533.0,539.3L535.9,538.9L538.8,538.6L542.1,536.1L545.5,533.6L548.2,532.0L550.9,530.4L554.1,532.5L557.3,534.7L559.7,536.4L562.1,538.2L564.7,539.5L567.3,540.8L570.6,544.1L573.9,547.3L574.3,550.6L574.7,553.9L575.1,557.9L575.5,562.0L576.6,565.3L577.7,568.5L578.8,571.8L582.8,575.1L586.9,578.4L589.3,580.9L591.8,583.3L592.9,586.0L594.0,588.7L595.1,591.4L599.2,594.7L603.3,598.0L604.9,600.4L606.5,602.9L609.0,602.9L611.4,602.9L613.5,601.3L615.5,599.6L616.0,595.8L616.6,592.0L617.1,588.2L616.8,584.4L616.6,580.5L616.3,576.7L614.7,572.9L613.0,569.1L611.4,565.3L609.8,562.0L608.1,558.8L606.5,555.5L604.9,552.2L603.3,549.5L601.6,546.8L600.0,544.1L597.8,540.3L595.7,536.5L593.5,532.7L591.9,530.0L590.2,527.2L588.6,524.5L587.7,521.4L586.7,518.2L585.8,515.1L582.5,517.4L579.2,519.8L578.2,522.3L575.5,519.1L572.7,519.4L569.8,519.7L566.9,520.0L564.1,520.2L560.7,520.5L557.4,520.7L554.1,520.9L550.7,521.1L547.4,521.2L544.0,521.4L540.7,521.6L537.4,521.7L536.1,519.5Z" fill="#91d4d7"/><path d="M552.7,447.1L551.4,449.9L550.0,452.6L553.7,454.2L557.4,455.9L559.6,459.4L561.8,462.9L565.0,465.8L568.2,468.8L570.6,471.0L573.1,473.2L576.2,475.3L579.3,477.3L580.5,480.6L581.7,483.8L584.3,486.8L586.9,489.8L590.8,492.0L592.5,489.1L594.1,486.1L597.1,482.7L599.3,480.0L601.5,476.9L604.4,474.0L606.2,472.2L608.0,470.4L610.2,466.1L612.3,461.7L614.5,458.1L617.3,454.7L613.7,452.5L610.0,450.2L606.4,448.0L602.8,445.7L599.2,443.4L596.2,443.9L593.3,444.3L590.3,444.7L587.3,445.1L584.4,445.5L583.0,443.4L581.6,441.2L579.9,440.6L576.5,441.0L573.1,441.3L569.8,441.7L566.4,442.0L563.0,442.3L559.8,443.8L556.6,445.2L554.7,446.2Z" fill="#ddd5ea"/><path d="M641.5,404.6L638.3,405.3L635.1,405.9L631.9,406.6L628.7,407.2L625.5,407.9L622.3,408.5L619.1,409.1L615.9,409.7L612.8,410.3L609.6,410.9L606.4,411.5L603.2,412.1L599.9,412.6L596.7,413.2L593.5,413.8L590.3,414.3L587.1,414.8L583.9,415.4L580.7,415.9L577.5,416.4L574.3,416.9L571.1,417.4L567.8,417.9L568.1,421.1L566.3,423.1L564.6,425.0L562.1,426.3L559.5,427.5L557.1,429.1L554.6,430.7L552.9,433.1L551.2,435.4L548.6,436.9L546.1,438.4L543.6,439.8L541.8,441.8L540.0,443.7L538.2,446.6L536.3,449.4L539.6,449.0L542.9,448.5L546.2,448.1L549.5,447.6L552.7,447.1L554.7,446.2L556.6,445.2L559.8,443.8L563.0,442.3L566.4,442.0L569.8,441.7L573.1,441.3L576.5,441.0L579.9,440.6L581.6,441.2L583.0,443.4L584.4,445.5L587.3,445.1L590.3,444.7L593.3,444.3L596.2,443.9L599.2,443.4L602.8,445.7L606.4,448.0L610.0,450.2L613.7,452.5L617.3,454.7L619.2,454.3L621.0,453.8L624.2,452.4L624.6,449.5L626.0,447.3L628.2,443.7L631.1,440.8L633.2,437.9L635.4,436.9L637.6,436.2L639.7,435.4L642.4,432.5L639.5,432.9L636.6,433.2L633.8,431.1L636.3,430.4L638.8,429.6L637.4,426.0L634.8,425.0L632.3,423.9L635.0,423.4L637.6,422.9L640.3,422.4L642.1,422.7L643.9,423.1L645.3,420.3L648.2,418.8L648.5,416.6L646.7,415.2L645.3,418.8L643.9,415.2L641.5,415.4L639.0,415.7L636.6,415.9L635.2,414.5L633.8,412.0L632.3,409.4L634.4,410.5L636.6,411.6L638.8,410.9L641.0,410.2L643.1,408.0Z" fill="#31a9aa"/><path d="M464.6,430.6L467.8,430.4L471.1,430.2L474.3,429.9L477.5,429.7L480.7,429.4L483.9,429.2L483.6,426.2L486.3,426.6L489.4,426.3L492.5,426.1L495.5,425.8L498.6,425.5L501.6,425.2L504.7,424.9L507.7,424.6L510.8,424.3L513.9,424.1L517.0,423.9L520.1,423.6L523.1,423.3L526.2,423.0L529.3,422.7L532.3,422.4L535.4,422.1L538.4,421.7L541.5,421.4L544.8,421.0L548.1,420.6L551.4,420.2L554.7,419.7L558.0,419.3L561.3,418.8L564.6,418.4L567.8,417.9L568.1,421.1L566.3,423.1L564.6,425.0L562.1,426.3L559.5,427.5L557.1,429.1L554.6,430.7L552.9,433.1L551.2,435.4L548.6,436.9L546.1,438.4L543.6,439.8L541.8,441.8L540.0,443.7L538.2,446.6L536.3,449.4L533.5,449.7L530.6,450.0L527.7,450.4L524.8,450.7L521.9,450.9L519.1,451.2L515.9,451.6L512.7,451.9L509.5,452.2L506.3,452.6L503.1,452.9L499.9,453.2L496.7,453.5L493.5,453.7L490.3,454.0L487.1,454.3L483.9,454.6L480.8,454.8L477.6,455.1L474.5,455.3L471.3,455.5L468.1,455.7L465.0,455.9L461.8,456.2L458.7,456.4L455.5,456.5L456.7,453.9L457.9,451.3L459.0,447.9L460.2,444.4L461.4,441.8L462.5,439.2L463.6,434.9Z" fill="#c7e8e9"/><path d="M541.5,421.4L538.4,421.7L535.4,422.1L532.3,422.4L529.3,422.7L526.2,423.0L523.1,423.3L520.1,423.6L517.0,423.9L513.9,424.1L510.8,424.3L507.7,424.6L504.7,424.9L501.6,425.2L498.6,425.5L495.5,425.8L492.5,426.1L489.4,426.3L486.3,426.6L483.6,426.2L483.9,429.2L480.7,429.4L477.5,429.7L474.3,429.9L471.1,430.2L467.8,430.4L464.6,430.6L467.2,428.8L467.9,425.5L468.7,422.2L471.1,421.5L473.5,420.7L475.8,420.0L477.8,419.5L479.9,416.4L481.9,413.3L482.1,410.3L482.3,407.3L484.0,407.2L486.2,405.7L488.4,404.2L490.7,404.9L493.1,405.5L495.6,404.2L498.1,402.8L500.0,402.9L502.0,403.0L504.3,399.4L506.7,400.4L509.1,401.4L510.1,399.0L511.2,396.6L512.8,393.6L514.4,390.6L517.5,388.6L519.3,387.6L521.1,386.5L521.3,383.9L521.6,381.3L523.6,381.1L525.6,380.9L528.4,382.6L530.6,384.0L532.7,385.4L534.8,386.5L536.9,387.5L539.4,387.2L542.0,387.0L543.8,385.8L545.6,384.6L548.2,384.8L549.8,386.9L551.4,389.1L552.5,391.7L553.5,394.2L555.4,398.2L558.4,401.2L561.7,402.6L559.8,404.9L558.0,407.2L556.2,408.8L554.4,410.3L552.8,412.7L551.1,415.0L548.7,417.1L546.3,419.1L543.9,420.2Z" fill="#c7e8e9"/><path d="M567.8,417.9L564.6,418.4L561.3,418.8L558.0,419.3L554.7,419.7L551.4,420.2L548.1,420.6L544.8,421.0L541.5,421.4L543.9,420.2L546.3,419.1L548.7,417.1L551.1,415.0L552.8,412.7L554.4,410.3L556.2,408.8L558.0,407.2L559.8,404.9L561.7,402.6L564.4,404.3L567.1,405.9L569.8,405.9L572.4,405.9L574.8,404.3L577.2,402.6L580.4,401.3L583.5,399.9L584.3,397.2L585.8,393.9L587.2,390.7L588.3,387.1L589.3,383.5L591.5,382.9L593.7,382.4L595.1,378.9L596.4,375.4L598.6,373.3L600.7,370.3L602.8,367.4L605.1,366.1L607.5,364.8L610.6,363.8L612.8,365.3L615.1,366.7L618.7,368.6L621.2,370.7L621.0,373.3L619.1,377.1L621.3,378.0L623.4,378.8L626.2,379.6L629.0,380.3L631.6,381.5L634.2,382.7L636.8,381.6L639.4,380.6L642.0,379.5L644.0,379.1L646.0,378.8L644.3,380.0L643.8,382.5L643.2,385.0L642.5,387.5L641.8,390.0L640.2,392.2L640.6,395.6L641.0,399.0L642.4,402.9L641.5,404.6L638.3,405.3L635.1,405.9L631.9,406.6L628.7,407.2L625.5,407.9L622.3,408.5L619.1,409.1L615.9,409.7L612.8,410.3L609.6,410.9L606.4,411.5L603.2,412.1L599.9,412.6L596.7,413.2L593.5,413.8L590.3,414.3L587.1,414.8L583.9,415.4L580.7,415.9L577.5,416.4L574.3,416.9L571.1,417.4Z" fill="#31a9aa"/><path d="M551.4,389.1L552.5,391.7L553.5,394.2L555.4,398.2L558.4,401.2L561.7,402.6L564.4,404.3L567.1,405.9L569.8,405.9L572.4,405.9L574.8,404.3L577.2,402.6L580.4,401.3L583.5,399.9L584.3,397.2L585.8,393.9L587.2,390.7L588.3,387.1L589.3,383.5L591.5,382.9L593.7,382.4L595.1,378.9L596.4,375.4L598.6,373.3L600.7,370.3L602.8,367.4L605.1,366.1L607.5,364.8L610.6,363.8L608.6,360.3L606.2,359.6L603.8,358.9L602.1,360.4L600.4,361.8L597.9,361.8L595.3,361.9L593.7,363.9L592.1,365.9L590.6,367.9L589.1,369.8L588.6,366.9L588.1,364.1L587.6,361.2L585.0,361.6L582.4,362.1L579.8,362.5L577.2,363.0L574.6,363.4L574.0,359.6L573.3,355.7L572.7,351.9L572.1,348.1L571.7,352.2L571.4,355.1L571.1,358.0L570.7,360.3L570.2,362.7L568.9,366.4L566.6,368.4L564.3,370.5L562.6,372.9L560.0,376.2L558.1,378.7L556.2,381.1L554.9,385.5L553.2,387.3Z" fill="#ddd5ea"/><path d="M587.6,361.2L590.7,360.6L593.8,360.1L596.9,359.5L600.0,359.0L603.1,358.4L606.1,357.8L609.2,357.2L612.3,356.6L615.4,356.0L618.4,355.4L621.5,354.8L624.6,354.2L627.6,353.5L630.7,352.9L633.8,352.2L634.5,355.7L635.3,359.2L636.0,362.6L636.7,366.1L637.5,369.5L638.2,373.0L641.4,372.3L644.5,371.7L647.6,371.0L647.4,373.2L647.3,375.5L646.0,378.8L644.0,379.1L642.0,379.5L639.4,380.6L636.8,381.6L634.2,382.7L631.6,381.5L629.0,380.3L626.2,379.6L623.4,378.8L621.3,378.0L619.1,377.1L621.0,373.3L621.2,370.7L618.7,368.6L615.1,366.7L612.8,365.3L610.6,363.8L608.6,360.3L606.2,359.6L603.8,358.9L602.1,360.4L600.4,361.8L597.9,361.8L595.3,361.9L593.7,363.9L592.1,365.9L590.6,367.9L589.1,369.8L588.6,366.9L588.1,364.1Z" fill="#91d4d7"/><path d="M633.8,352.2L634.5,355.7L635.3,359.2L636.0,362.6L636.7,366.1L637.5,369.5L638.2,373.0L641.4,372.3L644.5,371.7L647.6,371.0L646.7,368.4L645.8,365.8L642.7,363.6L641.5,361.3L640.3,358.9L638.8,356.7L637.4,354.4L637.3,351.0L638.1,349.7L635.7,349.7Z" fill="#91d4d7"/><path d="M587.6,361.2L590.7,360.6L593.8,360.1L596.9,359.5L600.0,359.0L603.1,358.4L606.1,357.8L609.2,357.2L612.3,356.6L615.4,356.0L618.4,355.4L621.5,354.8L624.6,354.2L627.6,353.5L630.7,352.9L633.8,352.2L635.7,349.7L638.1,349.7L639.5,348.2L640.9,346.7L642.4,344.6L643.9,342.6L641.1,338.9L637.9,336.1L637.9,333.1L637.9,330.1L639.1,327.2L640.2,324.8L641.2,322.3L637.9,321.5L635.7,317.6L633.3,315.6L630.9,313.5L628.0,314.2L625.0,314.8L622.1,315.4L619.1,316.1L616.2,316.7L613.2,317.3L610.3,317.9L607.3,318.5L604.3,319.0L601.4,319.6L598.4,320.2L595.5,320.7L592.5,321.3L589.5,321.8L586.6,322.4L583.6,322.9L580.6,323.4L577.7,323.9L577.3,321.7L576.9,319.4L575.0,320.8L573.1,322.1L570.8,324.0L568.5,325.8L569.1,329.5L569.7,333.2L570.3,336.9L570.9,340.6L571.5,344.4L572.1,348.1L572.7,351.9L573.3,355.7L574.0,359.6L574.6,363.4L577.2,363.0L579.8,362.5L582.4,362.1L585.0,361.6Z" fill="#c7e8e9"/><path d="M641.2,322.3L640.2,324.8L639.1,327.2L637.9,330.1L637.9,333.1L637.9,336.1L641.1,338.9L643.9,342.6L642.4,344.6L640.9,346.7L639.5,348.2L638.1,349.7L637.0,353.3L639.0,355.8L642.6,357.5L646.1,358.5L646.6,360.7L647.1,362.9L649.2,360.4L650.5,357.5L651.8,354.6L654.0,349.8L654.4,347.1L654.7,344.4L654.6,341.9L654.4,339.3L653.2,335.3L651.8,332.1L652.7,330.2L652.3,325.9L650.2,325.1L648.1,324.3L644.7,323.3Z" fill="#91d4d7"/><path d="M576.9,319.4L577.3,321.7L577.7,323.9L580.6,323.4L583.6,322.9L586.6,322.4L589.5,321.8L592.5,321.3L595.5,320.7L598.4,320.2L601.4,319.6L604.3,319.0L607.3,318.5L610.3,317.9L613.2,317.3L616.2,316.7L619.1,316.1L622.1,315.4L625.0,314.8L628.0,314.2L630.9,313.5L633.3,315.6L635.7,317.6L637.9,321.5L641.2,322.3L644.7,323.3L648.1,324.3L650.2,325.1L652.3,325.9L652.7,330.2L651.8,332.1L652.1,331.7L654.7,330.4L657.2,329.2L659.8,327.9L662.3,326.8L664.9,325.6L667.4,324.5L669.6,323.4L671.8,322.3L674.0,321.2L673.6,320.2L671.2,321.2L668.8,322.1L666.4,323.1L664.2,323.9L662.0,324.7L659.8,325.5L657.6,326.3L655.3,327.1L653.1,327.9L654.3,327.2L655.2,325.2L656.4,321.5L655.6,318.0L654.8,314.5L654.0,311.0L653.2,307.6L653.2,303.5L653.2,299.5L653.2,295.5L652.3,292.0L651.4,288.5L650.5,285.1L649.6,281.6L648.1,278.5L646.6,275.4L645.9,271.3L645.2,267.2L644.5,264.4L643.9,261.6L643.2,258.9L640.6,259.5L638.0,260.1L635.5,260.8L632.9,261.4L630.3,262.0L627.7,262.6L625.6,264.0L623.5,265.3L621.4,266.6L619.1,270.1L616.8,273.6L614.4,276.7L612.0,279.8L613.2,283.5L614.4,287.3L615.6,291.0L613.5,292.8L611.4,294.5L608.5,295.5L605.6,296.5L602.7,297.5L599.8,298.5L597.1,298.5L594.3,298.5L591.5,298.5L588.8,298.5L586.6,299.6L584.5,300.6L582.3,301.6L583.0,304.6L583.6,307.5L585.6,308.0L583.7,311.3L581.8,314.7L579.3,317.1Z" fill="#c7e8e9"/><path d="M572.1,348.1L571.5,344.4L570.9,340.6L570.3,336.9L569.7,333.2L569.1,329.5L568.5,325.8L565.7,327.3L563.0,328.9L560.5,331.0L558.0,333.1L556.3,334.6L554.7,336.1L552.0,337.0L549.3,337.8L546.9,338.5L544.5,339.3L541.0,337.2L537.8,336.8L535.5,336.0L533.3,335.2L530.5,335.7L527.7,336.1L524.9,336.5L522.1,337.0L519.3,337.4L516.5,337.8L516.9,341.8L517.4,345.7L517.9,349.7L518.3,353.6L518.8,357.6L519.3,361.5L519.7,365.5L520.2,369.5L520.6,373.4L521.1,377.4L521.6,381.3L523.6,381.1L525.6,380.9L528.4,382.6L530.6,384.0L532.7,385.4L534.8,386.5L536.9,387.5L539.4,387.2L542.0,387.0L543.8,385.8L545.6,384.6L548.2,384.8L549.8,386.9L551.4,389.1L553.2,387.3L554.9,385.5L556.2,381.1L558.1,378.7L560.0,376.2L562.6,372.9L564.3,370.5L566.6,368.4L568.9,366.4L570.2,362.7L570.7,360.3L571.1,358.0L571.4,355.1L571.7,352.2Z" fill="#91d4d7"/><path d="M516.5,337.8L516.6,336.8L513.9,337.1L511.1,337.4L508.3,337.7L505.6,338.0L502.8,338.3L500.0,338.6L497.3,338.9L494.5,339.2L491.8,339.4L489.5,340.8L487.3,342.2L485.3,341.7L483.2,341.2L483.6,345.2L483.9,349.1L484.2,353.1L484.6,357.0L484.9,360.9L485.2,364.9L485.6,368.8L485.9,372.8L486.2,376.7L486.6,380.7L486.0,385.0L486.3,387.5L486.5,390.0L488.1,393.3L485.7,396.0L483.3,398.8L482.8,403.0L482.3,407.3L484.0,407.2L486.2,405.7L488.4,404.2L490.7,404.9L493.1,405.5L495.6,404.2L498.1,402.8L500.0,402.9L502.0,403.0L504.3,399.4L506.7,400.4L509.1,401.4L510.1,399.0L511.2,396.6L512.8,393.6L514.4,390.6L517.5,388.6L519.3,387.6L521.1,386.5L521.3,383.9L521.6,381.3L521.1,377.4L520.6,373.4L520.2,369.5L519.7,365.5L519.3,361.5L518.8,357.6L518.3,353.6L517.9,349.7L517.4,345.7L516.9,341.8Z" fill="#91d4d7"/><path d="M443.9,330.5L446.8,330.4L449.7,330.2L452.6,330.0L455.5,329.8L458.4,329.6L461.3,329.4L464.2,329.2L467.1,329.0L470.0,328.8L472.8,328.6L475.7,328.3L478.6,328.1L479.6,331.4L480.7,334.7L481.7,338.0L483.2,341.2L483.6,345.2L483.9,349.1L484.2,353.1L484.6,357.0L484.9,360.9L485.2,364.9L485.6,368.8L485.9,372.8L486.2,376.7L486.6,380.7L486.0,385.0L486.3,387.5L486.5,390.0L488.1,393.3L485.7,396.0L483.3,398.8L482.8,403.0L482.3,407.3L482.1,410.3L481.9,413.3L479.9,416.4L477.8,419.5L475.8,420.0L473.5,420.7L471.1,421.5L468.7,422.2L466.2,419.7L463.7,417.2L462.9,414.7L462.1,412.2L459.3,409.4L456.5,406.6L454.1,404.7L451.7,402.7L452.5,399.3L453.2,395.8L453.0,392.5L449.7,390.1L446.6,387.3L443.6,384.5L440.5,381.3L437.5,378.1L436.7,375.6L436.0,373.1L436.0,369.9L436.1,366.7L437.9,363.0L439.8,359.4L440.2,355.2L440.6,350.9L443.6,348.7L446.6,346.4L448.3,344.2L450.0,342.0L450.1,339.4L450.1,336.9L447.1,333.7Z" fill="#c7e8e9"/><path d="M436.0,314.1L434.1,310.0L432.3,305.9L429.8,303.5L427.3,301.1L424.8,299.1L422.4,297.1L419.6,295.5L416.9,293.9L416.2,289.8L416.3,286.6L416.4,283.5L416.5,280.4L417.2,277.1L418.0,273.8L419.7,272.5L421.4,271.2L421.3,268.1L421.2,265.1L421.0,262.0L423.3,260.3L426.2,260.6L429.0,260.9L431.3,259.5L433.5,258.1L435.5,257.2L437.4,256.3L437.9,258.8L438.3,261.2L440.5,261.9L442.7,262.5L444.6,264.2L446.4,265.9L448.8,266.6L451.3,267.2L453.7,267.8L456.1,268.5L458.5,269.2L460.8,269.8L463.8,270.2L466.7,270.6L468.6,271.9L470.5,273.3L473.6,276.4L474.4,278.8L475.2,281.3L477.3,284.4L474.7,288.9L474.0,291.4L473.3,294.0L475.6,292.1L477.8,290.3L479.3,287.6L480.9,285.0L483.3,282.2L485.7,279.5L485.1,282.5L484.5,285.5L482.7,289.0L481.0,292.5L480.1,296.8L479.3,301.1L478.6,304.5L477.9,307.9L477.2,312.2L476.4,316.5L476.9,319.0L477.4,321.5L478.0,324.8L478.6,328.1L475.7,328.3L472.8,328.6L470.0,328.8L467.1,329.0L464.2,329.2L461.3,329.4L458.4,329.6L455.5,329.8L452.6,330.0L449.7,330.2L446.8,330.4L443.9,330.5L442.3,328.9L440.6,327.3L439.2,324.9L437.9,322.4L437.0,318.3Z" fill="#31a9aa"/><path d="M491.8,339.4L494.5,339.2L497.3,338.9L500.0,338.6L502.8,338.3L505.6,338.0L508.3,337.7L511.1,337.4L513.9,337.1L516.6,336.8L516.5,337.8L519.3,337.4L522.1,337.0L524.9,336.5L527.7,336.1L530.5,335.7L533.3,335.2L534.5,332.8L535.7,330.3L536.0,327.7L536.3,325.1L537.9,323.6L539.6,322.1L541.2,320.6L542.9,319.1L542.9,315.7L542.9,312.3L541.5,308.3L540.1,304.3L539.0,300.6L537.9,296.9L535.7,296.4L533.5,295.9L531.2,298.7L528.8,301.6L527.2,302.9L525.5,304.2L524.3,302.0L523.2,299.7L525.7,296.5L528.3,293.2L528.4,289.3L528.5,285.5L527.5,282.7L526.6,279.9L523.9,277.7L521.3,275.5L518.1,273.8L514.9,272.1L512.1,270.9L509.4,269.7L508.2,272.6L507.1,275.5L505.3,278.3L503.6,281.0L502.4,283.6L501.2,286.3L498.3,287.0L495.4,287.8L494.9,291.6L494.4,295.4L493.7,298.6L493.0,301.8L492.3,304.9L493.7,308.7L495.1,312.5L496.5,316.3L496.4,319.4L496.3,322.5L496.2,325.6L495.1,330.0L494.0,334.3L492.9,336.9Z" fill="#31a9aa"/><path d="M442.7,262.5L444.7,261.7L446.6,260.9L448.6,260.1L450.6,259.6L452.5,259.1L454.5,258.6L457.2,257.6L460.0,256.5L462.7,255.5L463.7,251.4L465.7,248.4L467.8,247.4L469.8,246.3L467.8,250.4L466.7,254.5L468.8,255.2L470.8,255.8L472.9,256.5L474.9,257.2L477.0,257.9L479.0,258.6L481.0,259.6L483.1,260.6L485.1,261.6L487.1,260.6L489.2,259.6L491.2,258.6L493.2,257.9L495.3,257.2L497.3,256.5L499.4,256.2L501.4,255.8L503.5,255.5L505.5,257.0L507.6,258.6L509.6,259.3L511.7,259.9L513.7,260.6L515.2,262.7L516.7,264.7L514.2,265.2L511.6,265.7L508.9,266.0L506.2,266.4L503.5,266.7L501.5,266.2L499.4,265.7L497.4,266.7L495.3,267.8L493.3,268.8L491.2,269.5L489.2,270.1L487.1,270.8L484.6,272.4L482.0,273.9L480.5,276.5L479.0,279.0L478.1,281.7L477.3,284.4L475.2,281.3L474.4,278.8L473.6,276.4L470.5,273.3L468.6,271.9L466.7,270.6L463.8,270.2L460.8,269.8L458.5,269.2L456.1,268.5L453.7,267.8L451.3,267.2L448.8,266.6L446.4,265.9L444.6,264.2Z" fill="#31a9aa"/><path d="M643.2,258.9L645.8,258.2L648.5,257.6L651.1,256.9L653.8,256.2L656.4,255.6L659.1,254.9L661.7,254.2L664.4,253.5L664.7,257.1L663.2,260.9L662.1,263.8L661.0,266.7L660.9,269.7L660.7,272.8L660.6,275.9L660.4,278.9L661.0,282.3L661.5,285.6L662.1,289.5L662.7,293.4L660.3,293.9L657.9,294.5L655.6,295.0L653.2,295.5L652.3,292.0L651.4,288.5L650.5,285.1L649.6,281.6L648.1,278.5L646.6,275.4L645.9,271.3L645.2,267.2L644.5,264.4L643.9,261.6Z" fill="#1b7d7b"/><path d="M664.4,253.5L666.1,250.6L667.9,247.6L669.4,251.5L671.0,255.4L672.2,259.4L673.4,263.4L674.2,266.7L675.0,270.0L675.7,273.2L677.8,276.2L679.8,279.1L682.0,282.5L681.5,286.1L679.0,288.3L676.6,290.4L674.2,291.0L671.8,291.5L669.4,292.1L667.2,292.5L665.0,293.0L662.7,293.4L662.1,289.5L661.5,285.6L661.0,282.3L660.4,278.9L660.6,275.9L660.7,272.8L660.9,269.7L661.0,266.7L662.1,263.8L663.2,260.9L664.7,257.1Z" fill="#c7e8e9"/><path d="M667.9,247.6L669.3,246.3L670.6,245.1L671.1,242.4L671.6,239.7L672.8,237.6L674.1,235.5L673.5,232.2L672.9,228.9L673.4,225.3L673.9,221.7L675.1,218.1L676.4,214.5L677.6,211.0L678.8,207.4L681.3,208.8L683.7,210.3L686.1,208.3L688.5,206.3L691.1,207.1L693.7,207.9L696.4,208.8L697.5,212.4L698.6,216.0L699.7,219.7L700.8,223.3L701.9,227.0L703.0,230.6L705.2,230.8L707.4,231.0L710.3,234.5L713.3,237.9L716.2,241.4L714.1,244.7L712.0,248.0L710.0,249.5L708.0,251.0L705.9,252.4L703.4,254.5L700.9,256.6L699.0,258.4L697.1,260.3L694.6,262.8L692.2,265.2L689.7,267.2L687.1,269.2L684.9,272.5L683.8,276.3L682.6,280.1L682.0,282.5L679.8,279.1L677.8,276.2L675.7,273.2L675.0,270.0L674.2,266.7L673.4,263.4L672.2,259.4L671.0,255.4L669.4,251.5Z" fill="#c7e8e9"/><path d="M653.2,295.5L655.6,295.0L657.9,294.5L660.3,293.9L662.7,293.4L665.0,293.0L667.2,292.5L669.4,292.1L671.8,291.5L674.2,291.0L676.6,290.4L679.0,288.3L681.5,286.1L682.6,286.4L684.4,289.4L682.2,291.2L681.8,295.0L684.4,296.1L686.7,298.7L688.9,301.7L690.4,303.2L693.4,302.8L695.1,302.0L696.8,301.3L697.2,302.1L695.1,303.2L693.0,304.3L690.4,305.1L687.4,305.1L685.2,307.3L683.7,306.2L681.4,304.7L679.9,301.7L677.8,302.1L675.6,302.6L673.5,303.0L670.6,303.7L667.7,304.3L664.8,305.0L661.9,305.7L659.0,306.3L656.1,306.9L653.2,307.6L653.2,303.5L653.2,299.5Z" fill="#1b7d7b"/><path d="M679.9,301.7L677.8,302.1L675.6,302.6L673.5,303.0L674.8,306.3L676.0,309.6L677.3,312.9L678.8,312.2L680.3,311.4L680.2,308.2L680.0,304.9Z" fill="#31a9aa"/><path d="M653.2,307.6L656.1,306.9L659.0,306.3L661.9,305.7L664.8,305.0L667.7,304.3L670.6,303.7L673.5,303.0L674.8,306.3L676.0,309.6L677.3,312.9L675.3,313.8L673.2,314.6L671.2,315.5L668.8,316.7L666.4,317.9L663.6,319.1L660.7,320.2L658.4,321.9L656.0,323.6L655.2,325.2L656.4,321.5L655.6,318.0L654.8,314.5L654.0,311.0Z" fill="#a98bbf"/><path d="M633.2,356.4L631.7,357.3L630.2,358.1L628.5,361.6L628.9,365.0L628.7,368.5L627.5,371.9L625.8,375.4L627.5,377.0L629.8,380.6L631.8,382.1L633.9,383.5L634.2,387.0L633.3,389.9L635.0,392.2L636.2,396.2L637.3,398.5L640.2,399.1L642.0,400.8L645.0,399.5L642.6,395.8L640.2,392.2L640.8,389.9L641.2,386.4L641.6,383.0L642.0,379.5L640.2,377.7L637.3,374.2L634.5,371.9L633.9,369.3L633.3,366.7L633.9,362.4L634.5,358.1Z" fill="#fff" stroke="none"/><path d="M621.7,368.5L620.2,371.5L620.6,374.5L624.0,376.3L628.7,377.4L630.5,378.0M626.9,384.1L630.5,387.3L633.9,390.4M629.2,392.7L633.0,395.3L636.8,398.0M628.1,395.1L631.5,398.0L635.0,400.8" fill="none" stroke="#fff" stroke-width="1.3" stroke-linecap="round"/><rect x="620.5" y="367.3" width="2.4" height="2.4" fill="#ddd5ea" stroke="none"/></g>
<path d="M119.8,514.3L124.1,516.7L129.0,518.0L135.1,518.6L141.2,519.8L148.6,520.4L156.5,521.0L169.3,587.4L172.0,587.2L174.5,586.3L176.5,585.6L176.5,587.5L172.0,588.6L169.5,588.8L165.7,587.7L161.3,588.3L156.9,585.6L151.6,583.0L146.3,582.4L145.0,586.5L143.8,590.6L140.5,593.9L136.4,597.1L134.0,596.3L135.6,591.4L138.1,587.3L140.1,582.0L135.6,584.9L132.3,589.0L129.1,592.2L125.8,596.3L127.4,599.6L124.2,603.7L119.3,607.8L114.4,611.0L109.5,614.3L106.2,618.4L101.3,620.0L100.9,619.2L101.3,618.4L104.6,615.9L108.7,611.0L111.9,607.8L113.6,602.9L115.2,598.0L112.8,598.8L108.7,599.6L106.2,597.1L101.3,598.0L98.5,596.3L97.2,589.0L91.5,589.8L88.3,584.1L87.5,579.0L88.8,575.0L92.2,570.9L93.6,567.5L96.3,565.4L100.8,563.9L105.1,562.7L105.7,559.0L104.5,555.9L95.9,555.3L89.2,552.9L86.1,549.2L87.3,548.0L93.5,546.1L96.5,544.3L99.0,545.5L103.0,546.5L108.8,545.5L104.5,542.0L100.2,540.0L99.0,536.3L95.9,533.9L94.7,530.2L95.9,527.8L102.0,525.9L103.9,522.2L105.7,520.4L110.6,519.8L112.4,517.3L116.7,516.1ZM71.5,561.0L73.5,560.5L75.9,562.5L74.5,563.8L72.0,563.0ZM80.5,586.5L82.5,586.0L83.0,588.0L81.0,588.5ZM123.4,610.5L125.5,609.0L127.0,609.5L125.0,611.8ZM127.5,610.0L130.2,608.6L130.7,609.6L128.5,611.2ZM91.9,623.5L94.5,621.2L97.5,620.0L98.1,621.0L95.0,622.5L92.8,624.1ZM81.5,627.5L83.5,625.8L86.8,624.9L86.5,626.2L83.5,627.3L82.0,628.0ZM71.6,630.9L72.3,630.1L72.8,630.7L72.1,631.3ZM63.6,634.2L65.5,632.8L67.2,632.2L66.5,633.3L64.5,634.7Z" fill="#31a9aa"/><g fill="none" stroke="#31a9aa" stroke-linecap="round" stroke-linejoin="round"><path d="M176,586.2L178.5,588.3L182,590L186,592.3L188.6,594.2" stroke-width="1.6"/><path d="M188.8,588.5L190.5,585.9L192.4,587.4L196.2,589.3L200,592.1L204.8,596L209.5,599.8L213.3,602.6L217.1,604.5L219.4,606.4L219.8,610.8" stroke-width="1.5"/><path d="M190.8,588L193,591.5L196.5,595.5L199.5,599.5" stroke-width="1.1"/><path d="M197,591L201,595.5L206,600.5L211,604.5L215,607.3L217.8,609.3" stroke-width="1.2"/><path d="M207.5,607.5L211.5,612" stroke-width="1.1"/><path d="M202,601.5L204.5,605.5" stroke-width="0.9"/></g><path d="M179.3,528.6L183.1,526.3L187.5,527.2L188.2,530.5L186.0,533.3L182.1,533.7L178.3,531.0ZM166.9,533.5L168.0,532.4L169.2,532.8L167.5,534.3ZM214.1,543.8L217.4,541.9L219.3,540.0L221.2,541.0L222.1,544.8L225.6,547.6L226.0,549.5L222.1,549.0L219.3,548.2L217.4,548.6L215.5,546.3ZM236.4,553.3L239.3,552.0L245.0,552.8L248.8,553.9L247.9,554.9L241.2,554.3L237.4,554.3ZM242.1,560.0L244.0,559.0L246.9,560.5L246.0,562.3L243.0,561.8ZM251.7,557.1L253.6,556.2L255.5,558.1L256.4,560.0L260.2,558.7L264.0,560.0L266.5,562.3L265.0,565.1L260.2,566.7L258.0,565.3L256.4,562.9L253.6,561.5L251.7,560.0ZM270.7,576.8L277.4,577.1L283.1,581.0L289.8,585.7L295.5,593.3L292.6,595.2L286.9,598.1L279.3,601.9L276.4,607.6L272.6,606.7L270.7,601.9L270.3,594.3L267.9,587.6L268.8,582.9L269.4,579.0Z" fill="#663b8e"/><ellipse cx="463.8" cy="535.6" rx="4.6" ry="2.4" fill="#fff"/><path d="M32.5,360.2L36,359.8L39.6,357.6L44.5,358.4L50,360.4L44.5,361.8L41,363.8L41.8,370.3L39.2,369.5L37.6,364.6L36,362.2L32.5,362.4Z" fill="#fff"/><path d="M74.5,206.8L76.9,203.6L79.8,201.1L80.2,204.4L78.6,207.7L75.3,208.5Z" fill="#a98bbf"/>
<path d="M189,158.9H259.9V352" fill="none" stroke="#fff" stroke-width="3"/><path d="M189,158.9H259.9V352" fill="none" stroke="#222" stroke-width="1.7" stroke-dasharray="1.7 2.3"/><path d="M586,158.9H654.1V258" fill="none" stroke="#fff" stroke-width="3"/><path d="M586,158.9H654.1V258" fill="none" stroke="#222" stroke-width="1.7" stroke-dasharray="1.7 2.3"/><line x1="670.1" y1="275.5" x2="692.8" y2="275.5" stroke="#666" stroke-width="1"/><text x="698.5" y="279.6" font-size="12.5" fill="#333" textLength="18.5" lengthAdjust="spacingAndGlyphs">N.H.</text>
<path d="M215.6,346.1L218.7,346.5L221.8,347.0L224.9,347.4L228.0,347.8L231.1,348.2L234.2,348.6L237.3,348.9L240.4,349.3L243.5,349.7L246.6,350.0L249.7,350.4L252.9,350.7L256.0,351.0L259.1,351.4L262.2,351.7L265.3,352.0L268.4,352.3L271.5,352.6L274.6,352.9L277.8,353.1L280.9,353.4L284.0,353.7L287.1,353.9L290.2,354.1L293.3,354.4L296.5,354.6L299.6,354.8L302.7,355.0L302.4,359.2L302.1,363.4L301.9,367.6L301.6,371.8L301.3,376.1L301.0,380.3L300.8,384.5L300.5,388.7L300.2,392.9L300.0,397.1L299.7,401.3L299.4,405.5L299.1,409.7L298.9,413.9L298.6,418.1L298.3,422.4L295.2,422.1L292.0,421.9L288.9,421.7L285.8,421.5L282.6,421.2L279.4,421.0L276.2,420.7L273.0,420.5L269.8,420.2L266.7,419.9L263.5,419.6L260.3,419.3L257.1,419.0L253.9,418.7L250.7,418.3L247.6,418.0L244.4,417.7L241.2,417.3L238.0,417.0L234.8,416.6L231.7,416.2L228.5,415.8L225.3,415.5L222.1,415.1L219.0,414.6L215.8,414.2L212.6,413.8L209.4,413.4L206.3,412.9L206.9,408.8L207.4,404.6L208.0,400.4L208.6,396.2L209.2,392.1L209.8,387.9L210.4,383.7L210.9,379.5L211.5,375.3L212.1,371.2L212.7,367.0L213.3,362.8L213.9,358.6L214.4,354.5L215.0,350.3Z" fill="none" stroke="#fff" stroke-width="3" stroke-linejoin="round"/><path d="M215.6,346.1L218.7,346.5L221.8,347.0L224.9,347.4L228.0,347.8L231.1,348.2L234.2,348.6L237.3,348.9L240.4,349.3L243.5,349.7L246.6,350.0L249.7,350.4L252.9,350.7L256.0,351.0L259.1,351.4L262.2,351.7L265.3,352.0L268.4,352.3L271.5,352.6L274.6,352.9L277.8,353.1L280.9,353.4L284.0,353.7L287.1,353.9L290.2,354.1L293.3,354.4L296.5,354.6L299.6,354.8L302.7,355.0L302.4,359.2L302.1,363.4L301.9,367.6L301.6,371.8L301.3,376.1L301.0,380.3L300.8,384.5L300.5,388.7L300.2,392.9L300.0,397.1L299.7,401.3L299.4,405.5L299.1,409.7L298.9,413.9L298.6,418.1L298.3,422.4L295.2,422.1L292.0,421.9L288.9,421.7L285.8,421.5L282.6,421.2L279.4,421.0L276.2,420.7L273.0,420.5L269.8,420.2L266.7,419.9L263.5,419.6L260.3,419.3L257.1,419.0L253.9,418.7L250.7,418.3L247.6,418.0L244.4,417.7L241.2,417.3L238.0,417.0L234.8,416.6L231.7,416.2L228.5,415.8L225.3,415.5L222.1,415.1L219.0,414.6L215.8,414.2L212.6,413.8L209.4,413.4L206.3,412.9L206.9,408.8L207.4,404.6L208.0,400.4L208.6,396.2L209.2,392.1L209.8,387.9L210.4,383.7L210.9,379.5L211.5,375.3L212.1,371.2L212.7,367.0L213.3,362.8L213.9,358.6L214.4,354.5L215.0,350.3Z" fill="none" stroke="#222" stroke-width="1.7" stroke-dasharray="1.7 2.3"/><path d="M643.2,258.9L645.8,258.2L648.5,257.6L651.1,256.9L653.8,256.2L656.4,255.6L659.1,254.9L661.7,254.2L664.4,253.5L664.7,257.1L663.2,260.9L662.1,263.8L661.0,266.7L660.9,269.7L660.7,272.8L660.6,275.9L660.4,278.9L661.0,282.3L661.5,285.6L662.1,289.5L662.7,293.4L660.3,293.9L657.9,294.5L655.6,295.0L653.2,295.5L652.3,292.0L651.4,288.5L650.5,285.1L649.6,281.6L648.1,278.5L646.6,275.4L645.9,271.3L645.2,267.2L644.5,264.4L643.9,261.6Z" fill="none" stroke="#fff" stroke-width="3" stroke-linejoin="round"/><path d="M643.2,258.9L645.8,258.2L648.5,257.6L651.1,256.9L653.8,256.2L656.4,255.6L659.1,254.9L661.7,254.2L664.4,253.5L664.7,257.1L663.2,260.9L662.1,263.8L661.0,266.7L660.9,269.7L660.7,272.8L660.6,275.9L660.4,278.9L661.0,282.3L661.5,285.6L662.1,289.5L662.7,293.4L660.3,293.9L657.9,294.5L655.6,295.0L653.2,295.5L652.3,292.0L651.4,288.5L650.5,285.1L649.6,281.6L648.1,278.5L646.6,275.4L645.9,271.3L645.2,267.2L644.5,264.4L643.9,261.6Z" fill="none" stroke="#222" stroke-width="1.7" stroke-dasharray="1.7 2.3"/>
<text x="104.9" y="222.1" text-anchor="middle" font-size="12.5" fill="#333" textLength="29.8" lengthAdjust="spacingAndGlyphs">Wash.</text><text x="88.5" y="275.4" text-anchor="middle" font-size="12.5" fill="#333" textLength="19.0" lengthAdjust="spacingAndGlyphs">Ore.</text><text x="75.7" y="410.9" text-anchor="middle" font-size="12.5" fill="#333" textLength="23.4" lengthAdjust="spacingAndGlyphs">Calif.</text><text x="117.6" y="363.2" text-anchor="middle" font-size="12.5" fill="#fff" textLength="20.4" lengthAdjust="spacingAndGlyphs">Nev.</text><text x="160.7" y="299.7" text-anchor="middle" font-size="12.5" fill="#fff" textLength="26.6" lengthAdjust="spacingAndGlyphs">Idaho</text><text x="230.3" y="253.0" text-anchor="middle" font-size="12.5" fill="#fff" textLength="28.3" lengthAdjust="spacingAndGlyphs">Mont.</text><text x="238.9" y="321.1" text-anchor="middle" font-size="12.5" fill="#333" textLength="24.4" lengthAdjust="spacingAndGlyphs">Wyo.</text><text x="178.6" y="379.0" text-anchor="middle" font-size="12.5" fill="#fff" textLength="23.8" lengthAdjust="spacingAndGlyphs">Utah</text><text x="255.7" y="393.0" text-anchor="middle" font-size="12.5" fill="#fff" textLength="22.6" lengthAdjust="spacingAndGlyphs">Colo.</text><text x="166.1" y="455.6" text-anchor="middle" font-size="12.5" fill="#333" textLength="21.0" lengthAdjust="spacingAndGlyphs">Ariz.</text><text x="241" y="465.7" text-anchor="middle" font-size="12.5" fill="#333" textLength="22.1" lengthAdjust="spacingAndGlyphs">N.M.</text><text x="328" y="254.8" text-anchor="middle" font-size="12.5" fill="#333" textLength="18.9" lengthAdjust="spacingAndGlyphs">N.D.</text><text x="328.1" y="304.9" text-anchor="middle" font-size="12.5" fill="#333" textLength="18.0" lengthAdjust="spacingAndGlyphs">S.D.</text><text x="333.1" y="354.1" text-anchor="middle" font-size="12.5" fill="#333" textLength="21.5" lengthAdjust="spacingAndGlyphs">Neb.</text><text x="348.9" y="405" text-anchor="middle" font-size="12.5" fill="#333" textLength="20.5" lengthAdjust="spacingAndGlyphs">Kan.</text><text x="362.6" y="456" text-anchor="middle" font-size="12.5" fill="#333" textLength="24.2" lengthAdjust="spacingAndGlyphs">Okla.</text><text x="337.8" y="527" text-anchor="middle" font-size="12.5" fill="#333" textLength="27.2" lengthAdjust="spacingAndGlyphs">Texas</text><text x="395.7" y="259.8" text-anchor="middle" font-size="12.5" fill="#333" textLength="27.1" lengthAdjust="spacingAndGlyphs">Minn.</text><text x="411.1" y="345" text-anchor="middle" font-size="12.5" fill="#333" textLength="23.3" lengthAdjust="spacingAndGlyphs">Iowa</text><text x="425.7" y="408.8" text-anchor="middle" font-size="12.5" fill="#fff" textLength="18.1" lengthAdjust="spacingAndGlyphs">Mo.</text><text x="426.7" y="465.1" text-anchor="middle" font-size="12.5" fill="#333" textLength="19.1" lengthAdjust="spacingAndGlyphs">Ark.</text><text x="429.7" y="532.1" text-anchor="middle" font-size="12.5" fill="#333" textLength="13.0" lengthAdjust="spacingAndGlyphs">La.</text><text x="452.8" y="302.1" text-anchor="middle" font-size="12.5" fill="#fff" textLength="20.9" lengthAdjust="spacingAndGlyphs">Wis.</text><text x="466.3" y="374.6" text-anchor="middle" font-size="12.5" fill="#333" textLength="10.6" lengthAdjust="spacingAndGlyphs">Ill.</text><text x="516.7" y="320" text-anchor="middle" font-size="12.5" fill="#fff" textLength="25.7" lengthAdjust="spacingAndGlyphs">Mich.</text><text x="504" y="372.9" text-anchor="middle" font-size="12.5" fill="#333" textLength="17.2" lengthAdjust="spacingAndGlyphs">Ind.</text><text x="545.5" y="364.5" text-anchor="middle" font-size="12.5" fill="#333" textLength="22.1" lengthAdjust="spacingAndGlyphs">Ohio</text><text x="535" y="411" text-anchor="middle" font-size="12.5" fill="#333" textLength="13.7" lengthAdjust="spacingAndGlyphs">Ky.</text><text x="511" y="443.9" text-anchor="middle" font-size="12.5" fill="#333" textLength="24.7" lengthAdjust="spacingAndGlyphs">Tenn.</text><text x="466.4" y="498.2" text-anchor="middle" font-size="12.5" fill="#333" textLength="25.9" lengthAdjust="spacingAndGlyphs">Miss.</text><text x="507.5" y="498.2" text-anchor="middle" font-size="12.5" fill="#333" textLength="17.8" lengthAdjust="spacingAndGlyphs">Ala.</text><text x="556.3" y="495" text-anchor="middle" font-size="12.5" fill="#333" textLength="15.0" lengthAdjust="spacingAndGlyphs">Ga.</text><text x="594.7" y="569.9" text-anchor="middle" font-size="12.5" fill="#333" textLength="16.7" lengthAdjust="spacingAndGlyphs">Fla.</text><text x="587.5" y="467.9" text-anchor="middle" font-size="12.5" fill="#333" textLength="17.0" lengthAdjust="spacingAndGlyphs">S.C.</text><text x="607.6" y="432.9" text-anchor="middle" font-size="12.5" fill="#fff" textLength="18.1" lengthAdjust="spacingAndGlyphs">N.C.</text><text x="610" y="400.9" text-anchor="middle" font-size="12.5" fill="#fff" textLength="14.4" lengthAdjust="spacingAndGlyphs">Va.</text><text x="572.4" y="389" text-anchor="middle" font-size="12.5" fill="#333" textLength="25.7" lengthAdjust="spacingAndGlyphs">W.Va.</text><text x="608.5" y="342.2" text-anchor="middle" font-size="12.5" fill="#333" textLength="13.7" lengthAdjust="spacingAndGlyphs">Pa.</text><text x="633" y="302.4" text-anchor="middle" font-size="12.5" fill="#333" textLength="16.9" lengthAdjust="spacingAndGlyphs">N.Y.</text><text x="691.4" y="244.9" text-anchor="middle" font-size="12.5" fill="#333" textLength="29.5" lengthAdjust="spacingAndGlyphs">Maine</text><text x="702.7" y="296.7" text-anchor="middle" font-size="12.5" fill="#333" textLength="27.7" lengthAdjust="spacingAndGlyphs">Mass.</text><text x="135" y="564.7" text-anchor="middle" font-size="12.5" fill="#fff" textLength="32.5" lengthAdjust="spacingAndGlyphs">Alaska</text><text x="243.1" y="584.8" text-anchor="middle" font-size="12.5" fill="#333" textLength="33.2" lengthAdjust="spacingAndGlyphs">Hawaii</text>
<rect x="182.40" y="76" width="53.09" height="6.6" fill="#1b7d7b"/><rect x="236.89" y="76" width="52.39" height="6.6" fill="#31a9aa"/><rect x="290.68" y="76" width="52.39" height="6.6" fill="#91d4d7"/><rect x="344.47" y="76" width="52.39" height="6.6" fill="#c7e8e9"/><rect x="398.26" y="76" width="52.39" height="6.6" fill="#ddd5ea"/><rect x="452.05" y="76" width="52.39" height="6.6" fill="#a98bbf"/><rect x="505.84" y="76" width="53.09" height="6.6" fill="#663b8e"/><text x="182.40" y="96.1" text-anchor="middle" font-size="11.7" fill="#444" textLength="26.0" lengthAdjust="spacingAndGlyphs">−40%</text><text x="236.19" y="96.1" text-anchor="middle" font-size="11.7" fill="#444" textLength="26.0" lengthAdjust="spacingAndGlyphs">−30%</text><text x="289.98" y="96.1" text-anchor="middle" font-size="11.7" fill="#444" textLength="26.0" lengthAdjust="spacingAndGlyphs">−20%</text><text x="343.77" y="96.1" text-anchor="middle" font-size="11.7" fill="#444" textLength="26.0" lengthAdjust="spacingAndGlyphs">−10%</text><text x="397.56" y="96.1" text-anchor="middle" font-size="11.7" fill="#444" textLength="5.6" lengthAdjust="spacingAndGlyphs">0</text><text x="451.35" y="96.1" text-anchor="middle" font-size="11.7" fill="#444" textLength="20.1" lengthAdjust="spacingAndGlyphs">10%</text><text x="505.14" y="96.1" text-anchor="middle" font-size="11.7" fill="#444" textLength="20.1" lengthAdjust="spacingAndGlyphs">20%</text><text x="558.93" y="96.1" text-anchor="middle" font-size="11.7" fill="#444" textLength="20.1" lengthAdjust="spacingAndGlyphs">30%</text><text x="331" y="64.7" font-size="12" fill="#333" textLength="60" lengthAdjust="spacingAndGlyphs">DECREASED</text><text x="404" y="64.7" font-size="12" fill="#333" textLength="57" lengthAdjust="spacingAndGlyphs">INCREASED</text><line x1="397.5" y1="54.5" x2="397.5" y2="68" stroke="#333" stroke-width="1"/><path d="M325.3,60.5H295.8M299.1,57.2L295.6,60.5L299.1,63.8" fill="none" stroke="#3a3a3a" stroke-width="1"/><path d="M467.7,60.5H496.3M492.8,57.2L496.4,60.5L492.8,63.8" fill="none" stroke="#3a3a3a" stroke-width="1"/>
<rect x="675.2" y="365.6" width="9.9" height="9.5" fill="#31a9aa"/><text x="690.3" y="374.8" font-size="12" fill="#333" textLength="14.3" lengthAdjust="spacingAndGlyphs">R.I.</text><rect x="675.2" y="383.7" width="9.9" height="9.5" fill="#a98bbf"/><text x="690.3" y="392.9" font-size="12" fill="#333" textLength="26.8" lengthAdjust="spacingAndGlyphs">Conn.</text><rect x="675.2" y="401.8" width="9.9" height="9.5" fill="#91d4d7"/><text x="690.3" y="411.0" font-size="12" fill="#333" textLength="17.0" lengthAdjust="spacingAndGlyphs">N.J.</text><rect x="675.2" y="419.9" width="9.9" height="9.5" fill="#91d4d7"/><text x="690.3" y="429.1" font-size="12" fill="#333" textLength="17.8" lengthAdjust="spacingAndGlyphs">Del.</text><rect x="675.2" y="438.0" width="9.9" height="9.5" fill="#91d4d7"/><text x="690.3" y="447.2" font-size="12" fill="#333" textLength="18.1" lengthAdjust="spacingAndGlyphs">Md.</text><rect x="675.2" y="456.1" width="9.9" height="9.5" fill="#ddd5ea"/><text x="690.3" y="465.3" font-size="12" fill="#333" textLength="17.8" lengthAdjust="spacingAndGlyphs">D.C.</text>
<text x="20.8" y="26.5" font-size="14.5" font-weight="bold" fill="#333" textLength="383.8" lengthAdjust="spacingAndGlyphs">U.S. quits in December by state, change from a year earlier</text><text x="21.9" y="131.8" font-size="12" font-weight="bold" fill="#333" textLength="51.1" lengthAdjust="spacingAndGlyphs">Colorado</text><text x="75.9" y="131.8" font-size="12" fill="#555" textLength="135.6" lengthAdjust="spacingAndGlyphs">has seen the largest rise</text><text x="21.9" y="147.65" font-size="12" fill="#555" textLength="54.3" lengthAdjust="spacingAndGlyphs">in quits at</text><text x="80.0" y="147.65" font-size="12" font-weight="bold" fill="#333" textLength="29.4" lengthAdjust="spacingAndGlyphs">+26%</text><text x="113" y="147.65" font-size="12" fill="#555" textLength="71.9" lengthAdjust="spacingAndGlyphs">in December,</text><text x="21.9" y="163.5" font-size="12" fill="#555" textLength="158.6" lengthAdjust="spacingAndGlyphs">compared with a year earlier</text><text x="421.2" y="131.8" font-size="12" font-weight="bold" fill="#333" textLength="49.8" lengthAdjust="spacingAndGlyphs">Vermont</text><text x="473.4" y="131.8" font-size="12" fill="#555" textLength="141.8" lengthAdjust="spacingAndGlyphs">has seen the largest drop</text><text x="421.2" y="147.65" font-size="12" fill="#555" textLength="53.9" lengthAdjust="spacingAndGlyphs">in quits at</text><text x="478.7" y="147.65" font-size="12" font-weight="bold" fill="#333" textLength="38.3" lengthAdjust="spacingAndGlyphs">–33.3%</text><text x="519.5" y="147.65" font-size="12" fill="#555" textLength="73.0" lengthAdjust="spacingAndGlyphs">in December,</text><text x="421.2" y="163.5" font-size="12" fill="#555" textLength="157.4" lengthAdjust="spacingAndGlyphs">compared with a year earlier</text><text x="20.2" y="663.9" font-size="11.7" fill="#555" textLength="148.2" lengthAdjust="spacingAndGlyphs">Source: Labor Department</text><text x="20.2" y="680.9" font-size="11.7" fill="#555" textLength="270.6" lengthAdjust="spacingAndGlyphs">Andrew Barnett/THE WALL STREET JOURNAL</text>
</svg></body></html>
